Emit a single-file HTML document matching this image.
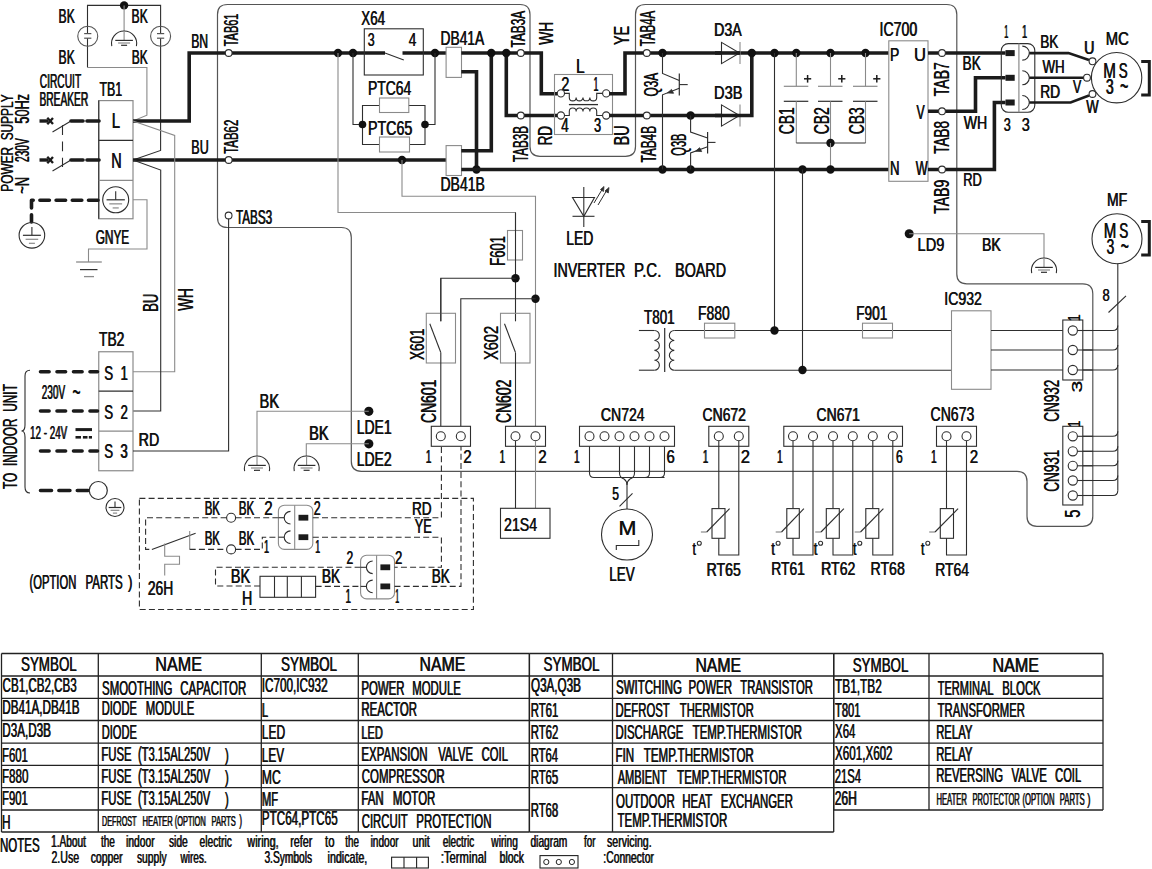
<!DOCTYPE html>
<html><head><meta charset="utf-8"><title>Wiring diagram</title>
<style>
html,body{margin:0;padding:0;background:#fff;}
svg{display:block;}
text{font-family:"Liberation Sans",sans-serif;white-space:pre;}
</style></head><body>
<svg width="1152" height="869" viewBox="0 0 1152 869">
<rect x="0" y="0" width="1152" height="869" fill="#fff"/>
<path d="M1.50 653.50 L529.40 653.50" fill="none" stroke="#222" stroke-width="1.30" stroke-linecap="butt" stroke-linejoin="miter"/>
<path d="M1.50 676.00 L529.40 676.00" fill="none" stroke="#222" stroke-width="1.30" stroke-linecap="butt" stroke-linejoin="miter"/>
<path d="M1.50 698.30 L529.40 698.30" fill="none" stroke="#222" stroke-width="1.30" stroke-linecap="butt" stroke-linejoin="miter"/>
<path d="M1.50 720.50 L529.40 720.50" fill="none" stroke="#222" stroke-width="1.30" stroke-linecap="butt" stroke-linejoin="miter"/>
<path d="M1.50 743.20 L529.40 743.20" fill="none" stroke="#222" stroke-width="1.30" stroke-linecap="butt" stroke-linejoin="miter"/>
<path d="M1.50 765.30 L529.40 765.30" fill="none" stroke="#222" stroke-width="1.30" stroke-linecap="butt" stroke-linejoin="miter"/>
<path d="M1.50 787.60 L529.40 787.60" fill="none" stroke="#222" stroke-width="1.30" stroke-linecap="butt" stroke-linejoin="miter"/>
<path d="M1.50 810.00 L529.40 810.00" fill="none" stroke="#222" stroke-width="1.30" stroke-linecap="butt" stroke-linejoin="miter"/>
<path d="M1.50 832.00 L529.40 832.00" fill="none" stroke="#222" stroke-width="1.30" stroke-linecap="butt" stroke-linejoin="miter"/>
<path d="M1.50 653.50 L1.50 832.00" fill="none" stroke="#222" stroke-width="1.30" stroke-linecap="butt" stroke-linejoin="miter"/>
<path d="M98.30 653.50 L98.30 832.00" fill="none" stroke="#222" stroke-width="1.30" stroke-linecap="butt" stroke-linejoin="miter"/>
<path d="M261.30 653.50 L261.30 832.00" fill="none" stroke="#222" stroke-width="1.30" stroke-linecap="butt" stroke-linejoin="miter"/>
<path d="M358.30 653.50 L358.30 832.00" fill="none" stroke="#222" stroke-width="1.30" stroke-linecap="butt" stroke-linejoin="miter"/>
<path d="M529.40 653.50 L529.40 832.00" fill="none" stroke="#222" stroke-width="1.30" stroke-linecap="butt" stroke-linejoin="miter"/>
<path d="M529.40 653.50 L833.70 653.50" fill="none" stroke="#222" stroke-width="1.30" stroke-linecap="butt" stroke-linejoin="miter"/>
<path d="M529.40 676.00 L833.70 676.00" fill="none" stroke="#222" stroke-width="1.30" stroke-linecap="butt" stroke-linejoin="miter"/>
<path d="M529.40 698.30 L833.70 698.30" fill="none" stroke="#222" stroke-width="1.30" stroke-linecap="butt" stroke-linejoin="miter"/>
<path d="M529.40 720.50 L833.70 720.50" fill="none" stroke="#222" stroke-width="1.30" stroke-linecap="butt" stroke-linejoin="miter"/>
<path d="M529.40 743.20 L833.70 743.20" fill="none" stroke="#222" stroke-width="1.30" stroke-linecap="butt" stroke-linejoin="miter"/>
<path d="M529.40 765.30 L833.70 765.30" fill="none" stroke="#222" stroke-width="1.30" stroke-linecap="butt" stroke-linejoin="miter"/>
<path d="M529.40 787.60 L833.70 787.60" fill="none" stroke="#222" stroke-width="1.30" stroke-linecap="butt" stroke-linejoin="miter"/>
<path d="M529.40 832.00 L833.70 832.00" fill="none" stroke="#222" stroke-width="1.30" stroke-linecap="butt" stroke-linejoin="miter"/>
<path d="M529.40 653.50 L529.40 832.00" fill="none" stroke="#222" stroke-width="1.30" stroke-linecap="butt" stroke-linejoin="miter"/>
<path d="M612.50 653.50 L612.50 832.00" fill="none" stroke="#222" stroke-width="1.30" stroke-linecap="butt" stroke-linejoin="miter"/>
<path d="M833.70 653.50 L833.70 832.00" fill="none" stroke="#222" stroke-width="1.30" stroke-linecap="butt" stroke-linejoin="miter"/>
<path d="M833.70 653.50 L1103.00 653.50" fill="none" stroke="#222" stroke-width="1.30" stroke-linecap="butt" stroke-linejoin="miter"/>
<path d="M833.70 676.00 L1103.00 676.00" fill="none" stroke="#222" stroke-width="1.30" stroke-linecap="butt" stroke-linejoin="miter"/>
<path d="M833.70 698.30 L1103.00 698.30" fill="none" stroke="#222" stroke-width="1.30" stroke-linecap="butt" stroke-linejoin="miter"/>
<path d="M833.70 720.50 L1103.00 720.50" fill="none" stroke="#222" stroke-width="1.30" stroke-linecap="butt" stroke-linejoin="miter"/>
<path d="M833.70 743.20 L1103.00 743.20" fill="none" stroke="#222" stroke-width="1.30" stroke-linecap="butt" stroke-linejoin="miter"/>
<path d="M833.70 765.30 L1103.00 765.30" fill="none" stroke="#222" stroke-width="1.30" stroke-linecap="butt" stroke-linejoin="miter"/>
<path d="M833.70 787.60 L1103.00 787.60" fill="none" stroke="#222" stroke-width="1.30" stroke-linecap="butt" stroke-linejoin="miter"/>
<path d="M833.70 810.00 L1103.00 810.00" fill="none" stroke="#222" stroke-width="1.30" stroke-linecap="butt" stroke-linejoin="miter"/>
<path d="M833.70 653.50 L833.70 810.00" fill="none" stroke="#222" stroke-width="1.30" stroke-linecap="butt" stroke-linejoin="miter"/>
<path d="M929.00 653.50 L929.00 810.00" fill="none" stroke="#222" stroke-width="1.30" stroke-linecap="butt" stroke-linejoin="miter"/>
<path d="M1103.00 653.50 L1103.00 810.00" fill="none" stroke="#222" stroke-width="1.30" stroke-linecap="butt" stroke-linejoin="miter"/>
<g transform="translate(20.70 671.30) scale(0.6578 1)" font-size="20.35" fill="#111"><text>SYMBOL</text><text x="0.836">SYMBOL</text></g>
<g transform="translate(155.01 671.30) scale(0.7953 1)" font-size="20.35" fill="#111"><text>NAME</text><text x="0.692">NAME</text></g>
<g transform="translate(280.69 671.30) scale(0.6614 1)" font-size="20.35" fill="#111"><text>SYMBOL</text><text x="0.832">SYMBOL</text></g>
<g transform="translate(419.33 671.30) scale(0.7793 1)" font-size="20.35" fill="#111"><text>NAME</text><text x="0.706">NAME</text></g>
<g transform="translate(543.19 671.30) scale(0.6614 1)" font-size="20.35" fill="#111"><text>SYMBOL</text><text x="0.832">SYMBOL</text></g>
<g transform="translate(695.13 671.80) scale(0.7776 1)" font-size="20.35" fill="#111"><text>NAME</text><text x="0.707">NAME</text></g>
<g transform="translate(852.40 671.80) scale(0.6578 1)" font-size="20.35" fill="#111"><text>SYMBOL</text><text x="0.836">SYMBOL</text></g>
<g transform="translate(992.21 671.80) scale(0.7918 1)" font-size="20.35" fill="#111"><text>NAME</text><text x="0.695">NAME</text></g>
<g transform="translate(2.32 691.60) scale(0.5781 1)" font-size="20.06" fill="#111"><text>CB1,CB2,CB3</text><text x="0.951">CB1,CB2,CB3</text></g>
<g transform="translate(1.96 713.80) scale(0.5755 1)" font-size="20.35" fill="#111"><text>DB41A,DB41B</text><text x="0.956">DB41A,DB41B</text></g>
<g transform="translate(1.97 736.50) scale(0.5742 1)" font-size="20.35" fill="#111"><text>D3A,D3B</text><text x="0.958">D3A,D3B</text></g>
<g transform="translate(1.69 761.60) scale(0.5598 1)" font-size="20.35" fill="#111"><text>F601</text><text x="0.982">F601</text></g>
<g transform="translate(1.67 783.40) scale(0.5709 1)" font-size="20.35" fill="#111"><text>F880</text><text x="0.963">F880</text></g>
<g transform="translate(1.69 805.20) scale(0.5598 1)" font-size="20.35" fill="#111"><text>F901</text><text x="0.982">F901</text></g>
<g transform="translate(1.66 829.00) scale(0.5663 1)" font-size="20.79" fill="#111"><text>H</text><text x="0.971">H</text></g>
<g transform="translate(101.79 694.50) scale(0.5782 1)" font-size="19.77" fill="#111"><text>SMOOTHING</text><text x="0.951">SMOOTHING</text></g>
<g transform="translate(180.03 694.50) scale(0.5815 1)" font-size="19.77" fill="#111"><text>CAPACITOR</text><text x="0.946">CAPACITOR</text></g>
<g transform="translate(101.41 715.20) scale(0.5624 1)" font-size="19.77" fill="#111"><text>DIODE</text><text x="0.978">DIODE</text></g>
<g transform="translate(145.49 715.20) scale(0.5741 1)" font-size="19.77" fill="#111"><text>MODULE</text><text x="0.958">MODULE</text></g>
<g transform="translate(101.41 738.60) scale(0.5386 1)" font-size="20.64" fill="#111"><text>DIODE</text><text x="1.021">DIODE</text></g>
<g transform="translate(101.09 761.20) scale(0.5797 1)" font-size="19.62" fill="#111"><text>FUSE</text><text x="0.949">FUSE</text></g>
<g transform="translate(137.63 761.20) scale(0.5719 1)" font-size="19.62" fill="#111"><text>(T3.15AL250V</text><text x="0.962">(T3.15AL250V</text></g>
<g transform="translate(224.64 760.50) scale(0.6025 1)" font-size="18.75" fill="#111"><text>)</text><text x="0.913">)</text></g>
<g transform="translate(101.09 783.30) scale(0.5797 1)" font-size="19.62" fill="#111"><text>FUSE</text><text x="0.949">FUSE</text></g>
<g transform="translate(137.63 783.30) scale(0.5719 1)" font-size="19.62" fill="#111"><text>(T3.15AL250V</text><text x="0.962">(T3.15AL250V</text></g>
<g transform="translate(224.64 782.60) scale(0.6025 1)" font-size="18.75" fill="#111"><text>)</text><text x="0.913">)</text></g>
<g transform="translate(101.09 805.40) scale(0.5630 1)" font-size="20.20" fill="#111"><text>FUSE</text><text x="0.977">FUSE</text></g>
<g transform="translate(137.63 805.40) scale(0.5554 1)" font-size="20.20" fill="#111"><text>(T3.15AL250V</text><text x="0.990">(T3.15AL250V</text></g>
<g transform="translate(224.64 804.70) scale(0.6025 1)" font-size="18.75" fill="#111"><text>)</text><text x="0.913">)</text></g>
<g transform="translate(101.72 826.00) scale(0.4656 1)" font-size="15.55" fill="#111"><text>DEFROST</text><text x="1.181">DEFROST</text></g>
<g transform="translate(142.19 826.00) scale(0.4889 1)" font-size="15.55" fill="#111"><text>HEATER</text><text x="1.125">HEATER</text></g>
<g transform="translate(174.45 826.00) scale(0.4794 1)" font-size="15.55" fill="#111"><text>(OPTION</text><text x="1.147">(OPTION</text></g>
<g transform="translate(211.30 826.00) scale(0.4812 1)" font-size="15.55" fill="#111"><text>PARTS</text><text x="1.143">PARTS</text></g>
<g transform="translate(238.96 826.20) scale(0.5212 1)" font-size="15.99" fill="#111"><text>)</text><text x="1.055">)</text></g>
<g transform="translate(261.44 691.60) scale(0.5994 1)" font-size="19.62" fill="#111"><text>IC700,IC932</text><text x="0.918">IC700,IC932</text></g>
<g transform="translate(261.61 716.60) scale(0.5669 1)" font-size="19.62" fill="#111"><text>L</text><text x="0.970">L</text></g>
<g transform="translate(261.54 739.40) scale(0.5927 1)" font-size="20.35" fill="#111"><text>LED</text><text x="0.928">LED</text></g>
<g transform="translate(261.56 761.90) scale(0.5797 1)" font-size="20.35" fill="#111"><text>LEV</text><text x="0.949">LEV</text></g>
<g transform="translate(261.52 783.70) scale(0.5989 1)" font-size="20.35" fill="#111"><text>MC</text><text x="0.918">MC</text></g>
<g transform="translate(261.60 805.60) scale(0.5524 1)" font-size="20.35" fill="#111"><text>MF</text><text x="0.996">MF</text></g>
<g transform="translate(261.57 825.30) scale(0.5947 1)" font-size="19.62" fill="#111"><text>PTC64,PTC65</text><text x="0.925">PTC64,PTC65</text></g>
<g transform="translate(361.09 694.90) scale(0.5821 1)" font-size="19.62" fill="#111"><text>POWER</text><text x="0.945">POWER</text></g>
<g transform="translate(411.89 694.90) scale(0.5808 1)" font-size="19.62" fill="#111"><text>MODULE</text><text x="0.947">MODULE</text></g>
<g transform="translate(361.08 716.40) scale(0.5831 1)" font-size="19.62" fill="#111"><text>REACTOR</text><text x="0.943">REACTOR</text></g>
<g transform="translate(361.12 738.50) scale(0.5786 1)" font-size="19.04" fill="#111"><text>LED</text><text x="0.951">LED</text></g>
<g transform="translate(361.08 761.30) scale(0.5869 1)" font-size="19.62" fill="#111"><text>EXPANSION</text><text x="0.937">EXPANSION</text></g>
<g transform="translate(437.90 761.30) scale(0.5785 1)" font-size="19.62" fill="#111"><text>VALVE</text><text x="0.951">VALVE</text></g>
<g transform="translate(481.34 761.30) scale(0.5752 1)" font-size="19.62" fill="#111"><text>COIL</text><text x="0.956">COIL</text></g>
<g transform="translate(361.43 783.40) scale(0.5772 1)" font-size="19.91" fill="#111"><text>COMPRESSOR</text><text x="0.953">COMPRESSOR</text></g>
<g transform="translate(361.08 805.30) scale(0.5851 1)" font-size="19.62" fill="#111"><text>FAN</text><text x="0.940">FAN</text></g>
<g transform="translate(392.58 805.30) scale(0.5858 1)" font-size="19.62" fill="#111"><text>MOTOR</text><text x="0.939">MOTOR</text></g>
<g transform="translate(361.43 828.20) scale(0.5592 1)" font-size="20.35" fill="#111"><text>CIRCUIT</text><text x="0.983">CIRCUIT</text></g>
<g transform="translate(415.98 828.20) scale(0.5640 1)" font-size="20.35" fill="#111"><text>PROTECTION</text><text x="0.975">PROTECTION</text></g>
<g transform="translate(530.78 691.60) scale(0.5936 1)" font-size="19.62" fill="#111"><text>Q3A,Q3B</text><text x="0.926">Q3A,Q3B</text></g>
<g transform="translate(530.39 716.60) scale(0.5587 1)" font-size="20.35" fill="#111"><text>RT61</text><text x="0.984">RT61</text></g>
<g transform="translate(530.39 739.40) scale(0.5587 1)" font-size="20.35" fill="#111"><text>RT62</text><text x="0.984">RT62</text></g>
<g transform="translate(530.40 761.90) scale(0.5539 1)" font-size="20.35" fill="#111"><text>RT64</text><text x="0.993">RT64</text></g>
<g transform="translate(530.39 783.80) scale(0.5575 1)" font-size="20.35" fill="#111"><text>RT65</text><text x="0.987">RT65</text></g>
<g transform="translate(530.39 816.60) scale(0.5575 1)" font-size="20.35" fill="#111"><text>RT68</text><text x="0.987">RT68</text></g>
<g transform="translate(615.68 693.70) scale(0.5750 1)" font-size="20.06" fill="#111"><text>SWITCHING</text><text x="0.956">SWITCHING</text></g>
<g transform="translate(688.18 693.70) scale(0.5763 1)" font-size="20.06" fill="#111"><text>POWER</text><text x="0.954">POWER</text></g>
<g transform="translate(739.97 693.70) scale(0.5643 1)" font-size="20.06" fill="#111"><text>TRANSISTOR</text><text x="0.975">TRANSISTOR</text></g>
<g transform="translate(615.29 716.50) scale(0.5384 1)" font-size="21.08" fill="#111"><text>DEFROST</text><text x="1.022">DEFROST</text></g>
<g transform="translate(679.58 716.50) scale(0.5322 1)" font-size="21.08" fill="#111"><text>THERMISTOR</text><text x="1.033">THERMISTOR</text></g>
<g transform="translate(615.29 738.60) scale(0.5458 1)" font-size="20.93" fill="#111"><text>DISCHARGE</text><text x="1.008">DISCHARGE</text></g>
<g transform="translate(692.37 738.60) scale(0.5487 1)" font-size="20.93" fill="#111"><text>TEMP.THERMISTOR</text><text x="1.002">TEMP.THERMISTOR</text></g>
<g transform="translate(615.27 761.80) scale(0.5495 1)" font-size="21.08" fill="#111"><text>FIN</text><text x="1.001">FIN</text></g>
<g transform="translate(643.57 761.80) scale(0.5480 1)" font-size="21.08" fill="#111"><text>TEMP.THERMISTOR</text><text x="1.004">TEMP.THERMISTOR</text></g>
<g transform="translate(617.40 783.90) scale(0.5285 1)" font-size="20.93" fill="#111"><text>AMBIENT</text><text x="1.041">AMBIENT</text></g>
<g transform="translate(676.87 783.90) scale(0.5492 1)" font-size="20.93" fill="#111"><text>TEMP.THERMISTOR</text><text x="1.001">TEMP.THERMISTOR</text></g>
<g transform="translate(615.68 808.00) scale(0.5500 1)" font-size="20.93" fill="#111"><text>OUTDOOR</text><text x="1.000">OUTDOOR</text></g>
<g transform="translate(681.98 808.00) scale(0.5516 1)" font-size="20.93" fill="#111"><text>HEAT</text><text x="0.997">HEAT</text></g>
<g transform="translate(720.59 808.00) scale(0.5439 1)" font-size="20.93" fill="#111"><text>EXCHANGER</text><text x="1.011">EXCHANGER</text></g>
<g transform="translate(617.17 826.70) scale(0.5556 1)" font-size="20.79" fill="#111"><text>TEMP.THERMISTOR</text><text x="0.990">TEMP.THERMISTOR</text></g>
<g transform="translate(834.76 692.50) scale(0.6048 1)" font-size="19.62" fill="#111"><text>TB1,TB2</text><text x="0.909">TB1,TB2</text></g>
<g transform="translate(834.78 717.00) scale(0.5491 1)" font-size="20.35" fill="#111"><text>T801</text><text x="1.002">T801</text></g>
<g transform="translate(834.77 738.40) scale(0.5831 1)" font-size="19.62" fill="#111"><text>X64</text><text x="0.943">X64</text></g>
<g transform="translate(834.77 759.70) scale(0.5920 1)" font-size="19.62" fill="#111"><text>X601,X602</text><text x="0.929">X601,X602</text></g>
<g transform="translate(834.44 783.40) scale(0.5534 1)" font-size="20.35" fill="#111"><text>21S4</text><text x="0.994">21S4</text></g>
<g transform="translate(834.39 805.20) scale(0.5952 1)" font-size="20.35" fill="#111"><text>26H</text><text x="0.924">26H</text></g>
<g transform="translate(937.38 694.80) scale(0.5396 1)" font-size="20.49" fill="#111"><text>TERMINAL</text><text x="1.019">TERMINAL</text></g>
<g transform="translate(1001.99 694.80) scale(0.5529 1)" font-size="20.49" fill="#111"><text>BLOCK</text><text x="0.995">BLOCK</text></g>
<g transform="translate(937.37 716.70) scale(0.5405 1)" font-size="20.93" fill="#111"><text>TRANSFORMER</text><text x="1.018">TRANSFORMER</text></g>
<g transform="translate(935.89 738.60) scale(0.5524 1)" font-size="20.49" fill="#111"><text>RELAY</text><text x="0.996">RELAY</text></g>
<g transform="translate(935.89 760.50) scale(0.5524 1)" font-size="20.49" fill="#111"><text>RELAY</text><text x="0.996">RELAY</text></g>
<g transform="translate(935.89 782.40) scale(0.5547 1)" font-size="20.49" fill="#111"><text>REVERSING</text><text x="0.992">REVERSING</text></g>
<g transform="translate(1011.20 782.40) scale(0.5619 1)" font-size="20.49" fill="#111"><text>VALVE</text><text x="0.979">VALVE</text></g>
<g transform="translate(1054.84 782.40) scale(0.5442 1)" font-size="20.49" fill="#111"><text>COIL</text><text x="1.011">COIL</text></g>
<g transform="translate(936.19 804.60) scale(0.4832 1)" font-size="15.84" fill="#111"><text>HEATER</text><text x="1.138">HEATER</text></g>
<g transform="translate(972.19 804.60) scale(0.4775 1)" font-size="15.84" fill="#111"><text>PROTECTOR</text><text x="1.152">PROTECTOR</text></g>
<g transform="translate(1022.14 804.60) scale(0.4863 1)" font-size="15.84" fill="#111"><text>(OPTION</text><text x="1.131">(OPTION</text></g>
<g transform="translate(1059.48 804.60) scale(0.4865 1)" font-size="15.84" fill="#111"><text>PARTS</text><text x="1.130">PARTS</text></g>
<g transform="translate(1086.95 804.80) scale(0.6139 1)" font-size="15.99" fill="#111"><text>)</text><text x="0.896">)</text></g>
<g transform="translate(-0.32 852.00) scale(0.5863 1)" font-size="19.62" fill="#111"><text>NOTES</text><text x="0.938">NOTES</text></g>
<g transform="translate(50.84 847.30) scale(0.5941 1)" font-size="17.01" fill="#111"><text>1.About</text><text x="0.926">1.About</text></g>
<g transform="translate(100.65 847.30) scale(0.5924 1)" font-size="17.01" fill="#111"><text>the</text><text x="0.928">the</text></g>
<g transform="translate(125.83 847.30) scale(0.6022 1)" font-size="17.01" fill="#111"><text>indoor</text><text x="0.913">indoor</text></g>
<g transform="translate(168.64 847.30) scale(0.6063 1)" font-size="17.01" fill="#111"><text>side</text><text x="0.907">side</text></g>
<g transform="translate(199.29 847.30) scale(0.6013 1)" font-size="17.01" fill="#111"><text>electric</text><text x="0.915">electric</text></g>
<g transform="translate(247.05 847.30) scale(0.6383 1)" font-size="17.01" fill="#111"><text>wiring,</text><text x="0.862">wiring,</text></g>
<g transform="translate(289.90 847.30) scale(0.6341 1)" font-size="17.01" fill="#111"><text>refer</text><text x="0.867">refer</text></g>
<g transform="translate(324.83 847.30) scale(0.6672 1)" font-size="17.01" fill="#111"><text>to</text><text x="0.824">to</text></g>
<g transform="translate(345.05 847.30) scale(0.5748 1)" font-size="17.01" fill="#111"><text>the</text><text x="0.957">the</text></g>
<g transform="translate(370.34 847.30) scale(0.5935 1)" font-size="17.01" fill="#111"><text>indoor</text><text x="0.927">indoor</text></g>
<g transform="translate(412.16 847.30) scale(0.6317 1)" font-size="17.01" fill="#111"><text>unit</text><text x="0.871">unit</text></g>
<g transform="translate(442.60 847.30) scale(0.5842 1)" font-size="17.01" fill="#111"><text>electric</text><text x="0.941">electric</text></g>
<g transform="translate(491.05 847.30) scale(0.5972 1)" font-size="17.01" fill="#111"><text>wiring</text><text x="0.921">wiring</text></g>
<g transform="translate(530.19 847.30) scale(0.6006 1)" font-size="17.01" fill="#111"><text>diagram</text><text x="0.916">diagram</text></g>
<g transform="translate(583.70 847.30) scale(0.5778 1)" font-size="17.01" fill="#111"><text>for</text><text x="0.952">for</text></g>
<g transform="translate(606.74 847.30) scale(0.6216 1)" font-size="17.01" fill="#111"><text>servicing.</text><text x="0.885">servicing.</text></g>
<g transform="translate(51.17 863.00) scale(0.6242 1)" font-size="17.01" fill="#111"><text>2.Use</text><text x="0.881">2.Use</text></g>
<g transform="translate(90.38 863.00) scale(0.6154 1)" font-size="17.01" fill="#111"><text>copper</text><text x="0.894">copper</text></g>
<g transform="translate(136.64 863.00) scale(0.6065 1)" font-size="17.01" fill="#111"><text>supply</text><text x="0.907">supply</text></g>
<g transform="translate(180.15 863.00) scale(0.5915 1)" font-size="17.01" fill="#111"><text>wires.</text><text x="0.930">wires.</text></g>
<g transform="translate(264.14 863.00) scale(0.6014 1)" font-size="17.01" fill="#111"><text>3.Symbols</text><text x="0.914">3.Symbols</text></g>
<g transform="translate(327.31 863.00) scale(0.6267 1)" font-size="17.01" fill="#111"><text>indicate,</text><text x="0.878">indicate,</text></g>
<g transform="translate(440.59 863.00) scale(0.6603 1)" font-size="17.01" fill="#111"><text>:Terminal</text><text x="0.833">:Terminal</text></g>
<g transform="translate(499.37 863.00) scale(0.6151 1)" font-size="17.01" fill="#111"><text>block</text><text x="0.894">block</text></g>
<g transform="translate(603.07 863.00) scale(0.6071 1)" font-size="17.01" fill="#111"><text>:Connector</text><text x="0.906">:Connector</text></g>
<rect x="391.60" y="857.20" width="36.80" height="10.80" rx="0.00" fill="none" stroke="#222" stroke-width="1.10"/>
<path d="M404.00 857.20 L404.00 868.00" fill="none" stroke="#222" stroke-width="1.10" stroke-linecap="butt" stroke-linejoin="miter"/>
<path d="M416.60 857.20 L416.60 868.00" fill="none" stroke="#222" stroke-width="1.10" stroke-linecap="butt" stroke-linejoin="miter"/>
<rect x="540.00" y="855.60" width="38.00" height="12.40" rx="0.00" fill="none" stroke="#222" stroke-width="1.10"/>
<circle cx="546.30" cy="862.00" r="2.60" fill="#fff" stroke="#222" stroke-width="1.00"/>
<circle cx="558.80" cy="862.00" r="2.60" fill="#fff" stroke="#222" stroke-width="1.00"/>
<circle cx="571.90" cy="862.00" r="2.60" fill="#fff" stroke="#222" stroke-width="1.00"/>
<path d="M 217.5 217.5 L 217.5 14.5 Q 217.5 4.5 227.5 4.5 L 520 4.5 Q 530 4.5 530 14.5 L 530 146.5 Q 530 156.3 540 156.3 L 625.5 156.3 Q 635.5 156.3 635.5 146.5 L 635.5 14.5 Q 635.5 4.5 645.5 4.5 L 946.8 4.5 Q 956.8 4.5 956.8 14.5 L 956.8 274 Q 956.8 283.8 966.8 283.8 L 1082.8 283.8 Q 1092.8 283.8 1092.8 293.8 L 1092.8 516.3 Q 1092.8 526.3 1082.8 526.3 L 1037 526.3 Q 1027 526.3 1027 516.3 L 1027 481.3 Q 1027 471.3 1017 471.3 L 361.3 471.3 Q 351.3 471.3 351.3 461.3 L 351.3 237.5 Q 351.3 227.5 341.3 227.5 L 227.5 227.5 Q 217.5 227.5 217.5 217.5 Z" fill="none" stroke="#555" stroke-width="1.20"/>
<path d="M87.50 33.60 L87.50 5.40 L160.60 5.40 L160.60 33.60" fill="none" stroke="#2e2e2e" stroke-width="1.10" stroke-linecap="butt" stroke-linejoin="miter"/>
<path d="M87.50 38.20 L87.50 67.50" fill="none" stroke="#2e2e2e" stroke-width="1.10" stroke-linecap="butt" stroke-linejoin="miter"/>
<path d="M160.60 38.20 L160.60 150.40 L133.00 160.00" fill="none" stroke="#2e2e2e" stroke-width="1.10" stroke-linecap="butt" stroke-linejoin="miter"/>
<path d="M87.50 67.50 L146.90 67.50 L146.90 115.20 L133.00 121.00" fill="none" stroke="#8a8a8a" stroke-width="1.10" stroke-linecap="butt" stroke-linejoin="miter"/>
<circle cx="124.10" cy="5.40" r="4.20" fill="#111"/>
<path d="M124.10 5.40 L124.10 31.00" fill="none" stroke="#8a8a8a" stroke-width="1.10" stroke-linecap="butt" stroke-linejoin="miter"/>
<circle cx="87.75" cy="36.25" r="10.00" fill="none" stroke="#555" stroke-width="1.10"/>
<path d="M84.15 33.60 L91.35 33.60" fill="none" stroke="#555" stroke-width="1.20" stroke-linecap="butt" stroke-linejoin="miter"/>
<path d="M84.15 38.20 L91.35 38.20" fill="none" stroke="#555" stroke-width="1.20" stroke-linecap="butt" stroke-linejoin="miter"/>
<circle cx="160.60" cy="36.25" r="10.00" fill="none" stroke="#555" stroke-width="1.10"/>
<path d="M157.00 33.60 L164.20 33.60" fill="none" stroke="#555" stroke-width="1.20" stroke-linecap="butt" stroke-linejoin="miter"/>
<path d="M157.00 38.20 L164.20 38.20" fill="none" stroke="#555" stroke-width="1.20" stroke-linecap="butt" stroke-linejoin="miter"/>
<path d="M 111.78 46.22 A 12.60 12.60 0 1 1 136.42 46.22" fill="none" stroke="#2e2e2e" stroke-width="1.10"/>
<path d="M124.10 31.00 L124.10 40.40" fill="none" stroke="#8a8a8a" stroke-width="1.10" stroke-linecap="butt" stroke-linejoin="miter"/>
<path d="M115.30 40.40 L132.90 40.40" fill="none" stroke="#2e2e2e" stroke-width="1.20" stroke-linecap="butt" stroke-linejoin="miter"/>
<path d="M118.10 43.00 L130.10 43.00" fill="none" stroke="#8a8a8a" stroke-width="1.20" stroke-linecap="butt" stroke-linejoin="miter"/>
<path d="M121.10 45.30 L127.10 45.30" fill="none" stroke="#2e2e2e" stroke-width="1.20" stroke-linecap="butt" stroke-linejoin="miter"/>
<g transform="translate(58.33 22.90) scale(0.5980 1)" font-size="20.35" fill="#111"><text>BK</text><text x="0.920">BK</text></g>
<g transform="translate(131.33 22.90) scale(0.5980 1)" font-size="20.35" fill="#111"><text>BK</text><text x="0.920">BK</text></g>
<g transform="translate(58.33 64.40) scale(0.5980 1)" font-size="20.35" fill="#111"><text>BK</text><text x="0.920">BK</text></g>
<g transform="translate(131.54 64.40) scale(0.5901 1)" font-size="20.35" fill="#111"><text>BK</text><text x="0.932">BK</text></g>
<g transform="translate(12.60 191.95) rotate(-90) scale(0.7223 1)" font-size="16.42" fill="#111"><text>POWER  SUPPLY</text><text x="0.761">POWER  SUPPLY</text></g>
<g transform="translate(28.90 194.12) rotate(-90) scale(0.6206 1)" font-size="20.79" fill="#111"><text>~N</text><text x="0.886">~N</text></g>
<g transform="translate(28.90 162.31) rotate(-90) scale(0.4895 1)" font-size="20.79" fill="#111"><text>230V</text><text x="1.124">230V</text></g>
<g transform="translate(28.90 123.91) rotate(-90) scale(0.6105 1)" font-size="20.79" fill="#111"><text>50Hz</text><text x="0.901">50Hz</text></g>
<g transform="translate(39.49 87.75) scale(0.5019 1)" font-size="20.35" fill="#111"><text>CIRCUIT</text><text x="1.096">CIRCUIT</text></g>
<g transform="translate(39.18 105.60) scale(0.5020 1)" font-size="20.35" fill="#111"><text>BREAKER</text><text x="1.096">BREAKER</text></g>
<g transform="translate(99.15 95.60) scale(0.6008 1)" font-size="20.64" fill="#111"><text>TB1</text><text x="0.915">TB1</text></g>
<rect x="98.75" y="100.60" width="34.25" height="118.15" rx="0.00" fill="none" stroke="#8a8a8a" stroke-width="1.20"/>
<path d="M98.75 100.60 L98.75 218.75" fill="none" stroke="#2e2e2e" stroke-width="1.10" stroke-linecap="butt" stroke-linejoin="miter"/>
<path d="M98.75 140.40 L133.00 140.40" fill="none" stroke="#2e2e2e" stroke-width="1.20" stroke-linecap="butt" stroke-linejoin="miter"/>
<path d="M98.75 180.40 L133.00 180.40" fill="none" stroke="#8a8a8a" stroke-width="1.20" stroke-linecap="butt" stroke-linejoin="miter"/>
<g transform="translate(111.40 127.90) scale(0.6590 1)" font-size="22.67" fill="#111"><text>L</text><text x="0.835">L</text></g>
<g transform="translate(111.05 168.00) scale(0.6281 1)" font-size="22.97" fill="#111"><text>N</text><text x="0.876">N</text></g>
<circle cx="115.70" cy="199.80" r="13.00" fill="none" stroke="#2e2e2e" stroke-width="1.10"/>
<path d="M115.70 191.27 L115.70 199.80" fill="none" stroke="#2e2e2e" stroke-width="1.10" stroke-linecap="butt" stroke-linejoin="miter"/>
<path d="M106.56 199.80 L124.84 199.80" fill="none" stroke="#2e2e2e" stroke-width="1.20" stroke-linecap="butt" stroke-linejoin="miter"/>
<path d="M109.30 203.86 L122.10 203.86" fill="none" stroke="#8a8a8a" stroke-width="1.20" stroke-linecap="butt" stroke-linejoin="miter"/>
<path d="M112.65 207.93 L118.75 207.93" fill="none" stroke="#8a8a8a" stroke-width="1.20" stroke-linecap="butt" stroke-linejoin="miter"/>
<path d="M39.50 121.00 L48.50 121.00" fill="none" stroke="#1b1b1b" stroke-width="3.40" stroke-linecap="butt" stroke-linejoin="miter"/>
<path d="M47.30 117.80 L53.00 124.00" fill="none" stroke="#1b1b1b" stroke-width="2.30" stroke-linecap="butt" stroke-linejoin="miter"/>
<path d="M47.30 124.20 L53.00 118.00" fill="none" stroke="#1b1b1b" stroke-width="2.30" stroke-linecap="butt" stroke-linejoin="miter"/>
<path d="M52.50 132.00 L71.00 121.00" fill="none" stroke="#2e2e2e" stroke-width="1.10" stroke-linecap="butt" stroke-linejoin="miter"/>
<path d="M71.00 121.00 L83.00 121.00" fill="none" stroke="#1b1b1b" stroke-width="3.60" stroke-linecap="round" stroke-linejoin="miter"/>
<path d="M87.00 121.00 L99.00 121.00" fill="none" stroke="#1b1b1b" stroke-width="3.60" stroke-linecap="round" stroke-linejoin="miter"/>
<path d="M39.50 160.00 L48.50 160.00" fill="none" stroke="#1b1b1b" stroke-width="3.40" stroke-linecap="butt" stroke-linejoin="miter"/>
<path d="M47.30 156.80 L53.00 163.00" fill="none" stroke="#1b1b1b" stroke-width="2.30" stroke-linecap="butt" stroke-linejoin="miter"/>
<path d="M47.30 163.20 L53.00 157.00" fill="none" stroke="#1b1b1b" stroke-width="2.30" stroke-linecap="butt" stroke-linejoin="miter"/>
<path d="M52.50 171.00 L71.00 160.00" fill="none" stroke="#2e2e2e" stroke-width="1.10" stroke-linecap="butt" stroke-linejoin="miter"/>
<path d="M71.00 160.00 L83.00 160.00" fill="none" stroke="#1b1b1b" stroke-width="3.60" stroke-linecap="round" stroke-linejoin="miter"/>
<path d="M87.00 160.00 L99.00 160.00" fill="none" stroke="#1b1b1b" stroke-width="3.60" stroke-linecap="round" stroke-linejoin="miter"/>
<path d="M62.50 125.30 L62.50 167.00" fill="none" stroke="#2e2e2e" stroke-width="1.10" stroke-linecap="butt" stroke-linejoin="miter" stroke-dasharray="9.8 6.4"/>
<path d="M98.00 200.20 L31.50 200.20 L31.50 222.00" fill="none" stroke="#1b1b1b" stroke-width="3.60" stroke-linecap="round" stroke-linejoin="round" stroke-dasharray="9.5 6.7"/>
<circle cx="31.90" cy="235.30" r="12.80" fill="none" stroke="#2e2e2e" stroke-width="1.10"/>
<path d="M31.90 226.90 L31.90 235.30" fill="none" stroke="#2e2e2e" stroke-width="1.10" stroke-linecap="butt" stroke-linejoin="miter"/>
<path d="M22.90 235.30 L40.90 235.30" fill="none" stroke="#2e2e2e" stroke-width="1.20" stroke-linecap="butt" stroke-linejoin="miter"/>
<path d="M25.60 239.30 L38.20 239.30" fill="none" stroke="#8a8a8a" stroke-width="1.20" stroke-linecap="butt" stroke-linejoin="miter"/>
<path d="M28.90 243.30 L34.90 243.30" fill="none" stroke="#8a8a8a" stroke-width="1.20" stroke-linecap="butt" stroke-linejoin="miter"/>
<path d="M133.00 199.80 L147.00 199.80 L147.00 249.00 L88.50 249.00 L88.50 262.00" fill="none" stroke="#8a8a8a" stroke-width="1.10" stroke-linecap="butt" stroke-linejoin="miter"/>
<path d="M76.10 262.00 L101.80 262.00" fill="none" stroke="#8a8a8a" stroke-width="1.30" stroke-linecap="butt" stroke-linejoin="miter"/>
<path d="M80.00 269.60 L97.50 269.60" fill="none" stroke="#2e2e2e" stroke-width="1.20" stroke-linecap="butt" stroke-linejoin="miter"/>
<path d="M84.00 276.60 L94.00 276.60" fill="none" stroke="#8a8a8a" stroke-width="1.30" stroke-linecap="butt" stroke-linejoin="miter"/>
<g transform="translate(95.41 244.00) scale(0.6035 1)" font-size="19.62" fill="#111"><text>GNYE</text><text x="0.911">GNYE</text></g>
<path d="M133.00 121.00 L189.20 121.00 L189.20 53.00 L228.70 53.00" fill="none" stroke="#1b1b1b" stroke-width="3.60" stroke-linecap="butt" stroke-linejoin="miter"/>
<path d="M133.00 160.00 L228.70 160.00" fill="none" stroke="#1b1b1b" stroke-width="3.60" stroke-linecap="butt" stroke-linejoin="miter"/>
<g transform="translate(190.92 47.50) scale(0.5928 1)" font-size="20.64" fill="#111"><text>BN</text><text x="0.928">BN</text></g>
<g transform="translate(191.00 153.80) scale(0.6086 1)" font-size="20.64" fill="#111"><text>BU</text><text x="0.904">BU</text></g>
<path d="M133.00 121.00 L174.70 135.40 L174.70 371.75 L133.00 371.75" fill="none" stroke="#8a8a8a" stroke-width="1.10" stroke-linecap="butt" stroke-linejoin="miter"/>
<path d="M133.00 160.00 L160.70 170.10 L160.70 411.00 L133.00 411.00" fill="none" stroke="#2e2e2e" stroke-width="1.10" stroke-linecap="butt" stroke-linejoin="miter"/>
<g transform="translate(158.00 312.04) rotate(-90) scale(0.5756 1)" font-size="22.53" fill="#111"><text>BU</text><text x="0.956">BU</text></g>
<g transform="translate(193.00 311.00) rotate(-90) scale(0.6188 1)" font-size="21.80" fill="#111"><text>WH</text><text x="0.889">WH</text></g>
<g transform="translate(98.72 346.00) scale(0.6788 1)" font-size="20.35" fill="#111"><text>TB2</text><text x="0.810">TB2</text></g>
<rect x="98.75" y="351.75" width="34.25" height="119.00" rx="0.00" fill="none" stroke="#8a8a8a" stroke-width="1.20"/>
<path d="M98.75 391.20 L133.00 391.20" fill="none" stroke="#2e2e2e" stroke-width="1.20" stroke-linecap="butt" stroke-linejoin="miter"/>
<path d="M98.75 431.20 L133.00 431.20" fill="none" stroke="#8a8a8a" stroke-width="1.20" stroke-linecap="butt" stroke-linejoin="miter"/>
<g transform="translate(103.90 380.00) scale(0.6528 1)" font-size="20.35" fill="#111"><text>S  1</text><text x="0.843">S  1</text></g>
<g transform="translate(103.90 418.80) scale(0.6528 1)" font-size="20.35" fill="#111"><text>S  2</text><text x="0.843">S  2</text></g>
<g transform="translate(103.90 458.00) scale(0.6509 1)" font-size="20.35" fill="#111"><text>S  3</text><text x="0.845">S  3</text></g>
<path d="M40.50 371.75 L97.50 371.75" fill="none" stroke="#1b1b1b" stroke-width="3.60" stroke-linecap="round" stroke-linejoin="miter" stroke-dasharray="8.6 7.9"/>
<path d="M40.50 411.00 L97.50 411.00" fill="none" stroke="#1b1b1b" stroke-width="3.60" stroke-linecap="round" stroke-linejoin="miter" stroke-dasharray="8.6 7.9"/>
<path d="M40.50 451.00 L97.50 451.00" fill="none" stroke="#1b1b1b" stroke-width="3.60" stroke-linecap="round" stroke-linejoin="miter" stroke-dasharray="8.6 7.9"/>
<g transform="translate(41.50 398.80) scale(0.5173 1)" font-size="19.33" fill="#111"><text>230V</text><text x="1.063">230V</text></g>
<g transform="translate(72.15 401.80) scale(0.4620 1)" font-size="29.65" fill="#111"><text>~</text><text x="1.190">~</text></g>
<g transform="translate(29.76 438.80) scale(0.5288 1)" font-size="18.60" fill="#111"><text>12 - 24V</text><text x="1.040">12 - 24V</text></g>
<path d="M75.50 429.60 L92.00 429.60" fill="none" stroke="#1b1b1b" stroke-width="3.00" stroke-linecap="butt" stroke-linejoin="miter"/>
<path d="M75.50 437.30 L81.00 437.30" fill="none" stroke="#1b1b1b" stroke-width="2.60" stroke-linecap="butt" stroke-linejoin="miter"/>
<path d="M82.90 437.30 L87.50 437.30" fill="none" stroke="#1b1b1b" stroke-width="2.60" stroke-linecap="butt" stroke-linejoin="miter"/>
<path d="M88.80 437.30 L92.00 437.30" fill="none" stroke="#1b1b1b" stroke-width="2.60" stroke-linecap="butt" stroke-linejoin="miter"/>
<path d="M40.50 490.50 L89.50 490.50" fill="none" stroke="#1b1b1b" stroke-width="3.60" stroke-linecap="round" stroke-linejoin="miter" stroke-dasharray="11 7.4"/>
<circle cx="98.30" cy="490.50" r="9.00" fill="#fff" stroke="#2e2e2e" stroke-width="1.20"/>
<circle cx="115.00" cy="507.50" r="9.00" fill="none" stroke="#2e2e2e" stroke-width="1.10"/>
<path d="M115.00 501.59 L115.00 507.50" fill="none" stroke="#2e2e2e" stroke-width="1.10" stroke-linecap="butt" stroke-linejoin="miter"/>
<path d="M108.67 507.50 L121.33 507.50" fill="none" stroke="#2e2e2e" stroke-width="1.20" stroke-linecap="butt" stroke-linejoin="miter"/>
<path d="M110.57 510.31 L119.43 510.31" fill="none" stroke="#8a8a8a" stroke-width="1.20" stroke-linecap="butt" stroke-linejoin="miter"/>
<path d="M112.89 513.12 L117.11 513.12" fill="none" stroke="#8a8a8a" stroke-width="1.20" stroke-linecap="butt" stroke-linejoin="miter"/>
<path d="M 30 370.3 Q 25 370.3 25 376 L 25 425 Q 25 431 21.5 431 Q 25 431 25 437 L 25 487 Q 25 493 30 493" fill="none" stroke="#2e2e2e" stroke-width="1.10"/>
<g transform="translate(17.00 489.24) rotate(-90) scale(0.5648 1)" font-size="21.08" fill="#111"><text>TO  INDOOR  UNIT</text><text x="0.974">TO  INDOOR  UNIT</text></g>
<path d="M133.00 451.00 L228.60 451.00 L228.60 219.00" fill="none" stroke="#2e2e2e" stroke-width="1.10" stroke-linecap="butt" stroke-linejoin="miter"/>
<g transform="translate(138.36 445.50) scale(0.7546 1)" font-size="18.90" fill="#111"><text>RD</text><text x="0.729">RD</text></g>
<g transform="translate(237.50 46.52) rotate(-90) scale(0.5201 1)" font-size="21.08" fill="#111"><text>TAB61</text><text x="1.058">TAB61</text></g>
<g transform="translate(237.50 154.03) rotate(-90) scale(0.5412 1)" font-size="21.08" fill="#111"><text>TAB62</text><text x="1.016">TAB62</text></g>
<g transform="translate(235.77 223.80) scale(0.5953 1)" font-size="19.62" fill="#111"><text>TABS3</text><text x="0.924">TABS3</text></g>
<path d="M228.70 53.00 L385.00 53.00" fill="none" stroke="#1b1b1b" stroke-width="3.60" stroke-linecap="butt" stroke-linejoin="miter"/>
<path d="M385.00 53.00 L403.80 60.00" fill="none" stroke="#2e2e2e" stroke-width="1.10" stroke-linecap="butt" stroke-linejoin="miter"/>
<path d="M402.50 53.00 L446.80 53.00" fill="none" stroke="#1b1b1b" stroke-width="3.60" stroke-linecap="butt" stroke-linejoin="miter"/>
<circle cx="338.00" cy="53.00" r="4.20" fill="#111"/>
<circle cx="353.00" cy="53.00" r="4.20" fill="#111"/>
<circle cx="435.00" cy="53.00" r="4.20" fill="#111"/>
<rect x="364.30" y="28.80" width="59.00" height="46.20" rx="0.00" fill="none" stroke="#2e2e2e" stroke-width="1.10"/>
<g transform="translate(361.03 24.50) scale(0.6800 1)" font-size="19.62" fill="#111"><text>X64</text><text x="0.809">X64</text></g>
<g transform="translate(367.57 46.30) scale(0.6560 1)" font-size="18.90" fill="#111"><text>3</text><text x="0.838">3</text></g>
<g transform="translate(408.53 46.30) scale(0.7212 1)" font-size="18.90" fill="#111"><text>4</text><text x="0.763">4</text></g>
<path d="M353.00 53.00 L353.00 124.50 L362.50 124.50" fill="none" stroke="#2e2e2e" stroke-width="1.10" stroke-linecap="butt" stroke-linejoin="miter"/>
<path d="M425.00 124.50 L435.00 124.50 L435.00 53.00" fill="none" stroke="#2e2e2e" stroke-width="1.10" stroke-linecap="butt" stroke-linejoin="miter"/>
<path d="M362.50 124.50 L362.50 105.50 L379.50 105.50" fill="none" stroke="#2e2e2e" stroke-width="1.10" stroke-linecap="butt" stroke-linejoin="miter"/>
<path d="M408.80 105.50 L425.00 105.50 L425.00 124.50" fill="none" stroke="#2e2e2e" stroke-width="1.10" stroke-linecap="butt" stroke-linejoin="miter"/>
<rect x="379.50" y="98.00" width="29.30" height="14.50" rx="0.00" fill="none" stroke="#8a8a8a" stroke-width="1.10"/>
<path d="M362.50 124.50 L362.50 144.50 L379.50 144.50" fill="none" stroke="#2e2e2e" stroke-width="1.10" stroke-linecap="butt" stroke-linejoin="miter"/>
<path d="M409.50 144.50 L425.00 144.50 L425.00 124.50" fill="none" stroke="#2e2e2e" stroke-width="1.10" stroke-linecap="butt" stroke-linejoin="miter"/>
<rect x="379.50" y="137.00" width="30.00" height="15.00" rx="0.00" fill="none" stroke="#8a8a8a" stroke-width="1.10"/>
<circle cx="362.50" cy="124.50" r="3.80" fill="#111"/>
<circle cx="425.00" cy="124.50" r="3.80" fill="#111"/>
<g transform="translate(367.68 94.50) scale(0.7221 1)" font-size="19.33" fill="#111"><text>PTC64</text><text x="0.762">PTC64</text></g>
<g transform="translate(367.66 134.50) scale(0.7111 1)" font-size="20.06" fill="#111"><text>PTC65</text><text x="0.773">PTC65</text></g>
<path d="M228.70 160.00 L446.80 160.00" fill="none" stroke="#1b1b1b" stroke-width="3.60" stroke-linecap="butt" stroke-linejoin="miter"/>
<circle cx="402.00" cy="160.00" r="4.20" fill="#111"/>
<circle cx="228.70" cy="53.00" r="3.40" fill="#fff" stroke="#2e2e2e" stroke-width="1.10"/>
<circle cx="228.70" cy="160.00" r="3.40" fill="#fff" stroke="#2e2e2e" stroke-width="1.10"/>
<circle cx="228.60" cy="215.50" r="3.40" fill="#fff" stroke="#2e2e2e" stroke-width="1.10"/>
<rect x="446.10" y="47.30" width="15.40" height="30.10" rx="0.00" fill="#fff" stroke="#8a8a8a" stroke-width="1.10"/>
<rect x="446.10" y="145.60" width="15.40" height="29.90" rx="0.00" fill="#fff" stroke="#8a8a8a" stroke-width="1.10"/>
<g transform="translate(440.19 45.00) scale(0.7151 1)" font-size="19.33" fill="#111"><text>DB41A</text><text x="0.769">DB41A</text></g>
<g transform="translate(440.18 191.30) scale(0.7269 1)" font-size="19.33" fill="#111"><text>DB41B</text><text x="0.757">DB41B</text></g>
<path d="M461.30 53.00 L541.30 53.00 L541.30 93.75 L557.00 93.75" fill="none" stroke="#1b1b1b" stroke-width="3.60" stroke-linecap="butt" stroke-linejoin="miter"/>
<path d="M461.30 71.75 L476.50 71.75 L476.50 169.50" fill="none" stroke="#1b1b1b" stroke-width="3.60" stroke-linecap="butt" stroke-linejoin="miter"/>
<path d="M491.30 53.00 L491.30 150.80 L461.30 150.80" fill="none" stroke="#1b1b1b" stroke-width="3.60" stroke-linecap="butt" stroke-linejoin="miter"/>
<path d="M506.30 53.00 L506.30 115.50 L557.00 115.50" fill="none" stroke="#1b1b1b" stroke-width="3.60" stroke-linecap="butt" stroke-linejoin="miter"/>
<circle cx="491.30" cy="53.00" r="4.20" fill="#111"/>
<circle cx="506.30" cy="53.00" r="4.20" fill="#111"/>
<circle cx="476.50" cy="169.50" r="4.20" fill="#111"/>
<path d="M461.30 169.50 L888.80 169.50" fill="none" stroke="#1b1b1b" stroke-width="3.60" stroke-linecap="butt" stroke-linejoin="miter"/>
<circle cx="520.80" cy="53.00" r="3.40" fill="#fff" stroke="#2e2e2e" stroke-width="1.10"/>
<circle cx="520.80" cy="115.50" r="3.40" fill="#fff" stroke="#2e2e2e" stroke-width="1.10"/>
<g transform="translate(525.00 47.74) rotate(-90) scale(0.5962 1)" font-size="19.91" fill="#111"><text>TAB3A</text><text x="0.922">TAB3A</text></g>
<g transform="translate(552.50 45.00) rotate(-90) scale(0.6933 1)" font-size="19.91" fill="#111"><text>WH</text><text x="0.793">WH</text></g>
<g transform="translate(527.50 162.23) rotate(-90) scale(0.5338 1)" font-size="21.80" fill="#111"><text>TAB3B</text><text x="1.030">TAB3B</text></g>
<g transform="translate(552.00 145.57) rotate(-90) scale(0.6596 1)" font-size="20.35" fill="#111"><text>RD</text><text x="0.834">RD</text></g>
<rect x="554.50" y="74.50" width="58.00" height="60.00" rx="0.00" fill="none" stroke="#8a8a8a" stroke-width="1.10"/>
<g transform="translate(575.75 72.50) scale(0.7786 1)" font-size="20.06" fill="#111"><text>L</text><text x="0.706">L</text></g>
<g transform="translate(560.97 90.50) scale(0.7369 1)" font-size="19.91" fill="#111"><text>2</text><text x="0.746">2</text></g>
<g transform="translate(593.24 90.50) scale(0.4445 1)" font-size="19.91" fill="#111"><text>1</text><text x="1.237">1</text></g>
<g transform="translate(561.03 131.60) scale(0.6948 1)" font-size="19.33" fill="#111"><text>4</text><text x="0.792">4</text></g>
<g transform="translate(593.75 131.60) scale(0.6628 1)" font-size="19.33" fill="#111"><text>3</text><text x="0.830">3</text></g>
<path d="M 564.5 93.40 L 569.30 93.40 L 569.30 97.40 A 3.425 3.425 0 0 0 576.15 97.40 A 3.425 3.425 0 0 0 583.00 97.40 A 3.425 3.425 0 0 0 589.85 97.40 A 3.425 3.425 0 0 0 596.70 97.40 L 596.70 93.40 L 602.6 93.40" fill="none" stroke="#2e2e2e" stroke-width="1.10"/>
<path d="M 564.5 115.50 L 569.30 115.50 L 569.30 111.40 A 3.425 3.425 0 0 1 576.15 111.40 A 3.425 3.425 0 0 1 583.00 111.40 A 3.425 3.425 0 0 1 589.85 111.40 A 3.425 3.425 0 0 1 596.70 111.40 L 596.70 115.50 L 602.6 115.50" fill="none" stroke="#2e2e2e" stroke-width="1.10"/>
<path d="M568.90 104.60 L598.00 104.60" fill="none" stroke="#2e2e2e" stroke-width="1.30" stroke-linecap="butt" stroke-linejoin="miter"/>
<circle cx="560.90" cy="93.40" r="3.60" fill="#fff" stroke="#2e2e2e" stroke-width="1.10"/>
<circle cx="606.20" cy="93.40" r="3.60" fill="#fff" stroke="#2e2e2e" stroke-width="1.10"/>
<circle cx="560.90" cy="115.50" r="3.60" fill="#fff" stroke="#2e2e2e" stroke-width="1.10"/>
<circle cx="606.20" cy="115.50" r="3.60" fill="#fff" stroke="#2e2e2e" stroke-width="1.10"/>
<path d="M609.20 93.75 L625.00 93.75 L625.00 53.00 L888.80 53.00" fill="none" stroke="#1b1b1b" stroke-width="3.60" stroke-linecap="butt" stroke-linejoin="miter"/>
<path d="M609.20 115.50 L721.30 115.50" fill="none" stroke="#1b1b1b" stroke-width="3.60" stroke-linecap="butt" stroke-linejoin="miter"/>
<circle cx="646.80" cy="53.00" r="3.40" fill="#fff" stroke="#2e2e2e" stroke-width="1.10"/>
<circle cx="646.80" cy="115.50" r="3.40" fill="#fff" stroke="#2e2e2e" stroke-width="1.10"/>
<g transform="translate(628.80 45.29) rotate(-90) scale(0.6555 1)" font-size="21.80" fill="#111"><text>YE</text><text x="0.839">YE</text></g>
<g transform="translate(628.80 145.65) rotate(-90) scale(0.6582 1)" font-size="21.80" fill="#111"><text>BU</text><text x="0.836">BU</text></g>
<g transform="translate(655.00 46.53) rotate(-90) scale(0.5266 1)" font-size="21.80" fill="#111"><text>TAB4A</text><text x="1.044">TAB4A</text></g>
<g transform="translate(655.50 162.74) rotate(-90) scale(0.5240 1)" font-size="22.53" fill="#111"><text>TAB4B</text><text x="1.050">TAB4B</text></g>
<circle cx="662.50" cy="53.00" r="4.20" fill="#111"/>
<circle cx="662.50" cy="169.50" r="4.20" fill="#111"/>
<path d="M662.50 53.00 L662.50 73.50 L679.30 80.50" fill="none" stroke="#2e2e2e" stroke-width="1.10" stroke-linecap="butt" stroke-linejoin="miter"/>
<path d="M679.30 73.50 L679.30 95.40" fill="none" stroke="#2e2e2e" stroke-width="1.20" stroke-linecap="butt" stroke-linejoin="miter"/>
<path d="M679.30 84.60 L687.70 84.60" fill="none" stroke="#2e2e2e" stroke-width="1.10" stroke-linecap="butt" stroke-linejoin="miter"/>
<path d="M679.30 88.20 L662.50 94.80 L662.50 169.50" fill="none" stroke="#2e2e2e" stroke-width="1.10" stroke-linecap="butt" stroke-linejoin="miter"/>
<path d="M 667.4 92.9 L 671.5 89.4 L 673.6 93.3 Z" fill="#2e2e2e" stroke="#2e2e2e" stroke-width="0.80"/>
<g transform="translate(657.50 96.84) rotate(-90) scale(0.5972 1)" font-size="19.91" fill="#111"><text>Q3A</text><text x="0.921">Q3A</text></g>
<circle cx="690.60" cy="115.50" r="4.20" fill="#111"/>
<circle cx="690.60" cy="169.50" r="4.20" fill="#111"/>
<path d="M690.60 115.50 L690.60 132.00 L707.60 138.00" fill="none" stroke="#2e2e2e" stroke-width="1.10" stroke-linecap="butt" stroke-linejoin="miter"/>
<path d="M707.60 132.00 L707.60 153.60" fill="none" stroke="#2e2e2e" stroke-width="1.20" stroke-linecap="butt" stroke-linejoin="miter"/>
<path d="M707.60 142.40 L715.50 142.40" fill="none" stroke="#2e2e2e" stroke-width="1.10" stroke-linecap="butt" stroke-linejoin="miter"/>
<path d="M707.60 146.70 L690.60 152.90 L690.60 169.50" fill="none" stroke="#2e2e2e" stroke-width="1.10" stroke-linecap="butt" stroke-linejoin="miter"/>
<path d="M 695.5 151.2 L 699.6 147.7 L 701.7 151.6 Z" fill="#2e2e2e" stroke="#2e2e2e" stroke-width="0.80"/>
<g transform="translate(686.30 156.00) rotate(-90) scale(0.5092 1)" font-size="21.80" fill="#111"><text>Q3B</text><text x="1.080">Q3B</text></g>
<path d="M888.80 53.00 L888.80 53.00" fill="none" stroke="#1b1b1b" stroke-width="3.60" stroke-linecap="butt" stroke-linejoin="miter"/>
<path d="M 721.50 42.40 L 739.50 53.00 L 721.50 63.60 Z" fill="#fff" stroke="#2e2e2e" stroke-width="1.10"/>
<path d="M740.00 41.90 L740.00 64.10" fill="none" stroke="#8a8a8a" stroke-width="1.10" stroke-linecap="butt" stroke-linejoin="miter"/>
<path d="M 721.50 104.90 L 739.50 115.50 L 721.50 126.10 Z" fill="#fff" stroke="#2e2e2e" stroke-width="1.10"/>
<path d="M740.00 104.40 L740.00 126.60" fill="none" stroke="#8a8a8a" stroke-width="1.10" stroke-linecap="butt" stroke-linejoin="miter"/>
<path d="M715.00 53.00 L740.00 53.00" fill="none" stroke="#1b1b1b" stroke-width="3.60" stroke-linecap="butt" stroke-linejoin="miter"/>
<path d="M715.00 115.50 L751.80 115.50 L751.80 53.00" fill="none" stroke="#1b1b1b" stroke-width="3.60" stroke-linecap="butt" stroke-linejoin="miter"/>
<g transform="translate(713.87 36.30) scale(0.7806 1)" font-size="18.17" fill="#111"><text>D3A</text><text x="0.705">D3A</text></g>
<g transform="translate(713.83 98.80) scale(0.8021 1)" font-size="18.17" fill="#111"><text>D3B</text><text x="0.686">D3B</text></g>
<circle cx="751.80" cy="53.00" r="4.20" fill="#111"/>
<circle cx="796.30" cy="53.00" r="4.20" fill="#111"/>
<path d="M796.30 53.00 L796.30 86.30" fill="none" stroke="#8a8a8a" stroke-width="1.10" stroke-linecap="butt" stroke-linejoin="miter"/>
<path d="M783.80 86.30 L808.30 86.30" fill="none" stroke="#8a8a8a" stroke-width="1.20" stroke-linecap="butt" stroke-linejoin="miter"/>
<path d="M783.80 101.30 L808.30 101.30" fill="none" stroke="#2e2e2e" stroke-width="1.20" stroke-linecap="butt" stroke-linejoin="miter"/>
<path d="M796.30 101.30 L796.30 143.00" fill="none" stroke="#8a8a8a" stroke-width="1.10" stroke-linecap="butt" stroke-linejoin="miter"/>
<g transform="translate(793.80 134.50) rotate(-90) scale(0.6384 1)" font-size="21.80" fill="#111"><text>CB1</text><text x="0.862">CB1</text></g>
<path d="M804.00 78.80 L811.20 78.80" fill="none" stroke="#1b1b1b" stroke-width="1.50" stroke-linecap="butt" stroke-linejoin="miter"/>
<path d="M807.60 75.00 L807.60 82.60" fill="none" stroke="#1b1b1b" stroke-width="1.50" stroke-linecap="butt" stroke-linejoin="miter"/>
<circle cx="830.50" cy="53.00" r="4.20" fill="#111"/>
<path d="M830.50 53.00 L830.50 86.30" fill="none" stroke="#8a8a8a" stroke-width="1.10" stroke-linecap="butt" stroke-linejoin="miter"/>
<path d="M818.00 86.30 L842.50 86.30" fill="none" stroke="#8a8a8a" stroke-width="1.20" stroke-linecap="butt" stroke-linejoin="miter"/>
<path d="M818.00 101.30 L842.50 101.30" fill="none" stroke="#2e2e2e" stroke-width="1.20" stroke-linecap="butt" stroke-linejoin="miter"/>
<path d="M830.50 101.30 L830.50 143.00" fill="none" stroke="#8a8a8a" stroke-width="1.10" stroke-linecap="butt" stroke-linejoin="miter"/>
<g transform="translate(828.80 134.50) rotate(-90) scale(0.6178 1)" font-size="22.53" fill="#111"><text>CB2</text><text x="0.890">CB2</text></g>
<path d="M838.20 78.80 L845.40 78.80" fill="none" stroke="#1b1b1b" stroke-width="1.50" stroke-linecap="butt" stroke-linejoin="miter"/>
<path d="M841.80 75.00 L841.80 82.60" fill="none" stroke="#1b1b1b" stroke-width="1.50" stroke-linecap="butt" stroke-linejoin="miter"/>
<circle cx="865.50" cy="53.00" r="4.20" fill="#111"/>
<path d="M865.50 53.00 L865.50 86.30" fill="none" stroke="#8a8a8a" stroke-width="1.10" stroke-linecap="butt" stroke-linejoin="miter"/>
<path d="M853.00 86.30 L877.50 86.30" fill="none" stroke="#8a8a8a" stroke-width="1.20" stroke-linecap="butt" stroke-linejoin="miter"/>
<path d="M853.00 101.30 L877.50 101.30" fill="none" stroke="#2e2e2e" stroke-width="1.20" stroke-linecap="butt" stroke-linejoin="miter"/>
<path d="M865.50 101.30 L865.50 143.00" fill="none" stroke="#8a8a8a" stroke-width="1.10" stroke-linecap="butt" stroke-linejoin="miter"/>
<g transform="translate(863.80 134.49) rotate(-90) scale(0.6161 1)" font-size="22.53" fill="#111"><text>CB3</text><text x="0.893">CB3</text></g>
<path d="M873.20 78.80 L880.40 78.80" fill="none" stroke="#1b1b1b" stroke-width="1.50" stroke-linecap="butt" stroke-linejoin="miter"/>
<path d="M876.80 75.00 L876.80 82.60" fill="none" stroke="#1b1b1b" stroke-width="1.50" stroke-linecap="butt" stroke-linejoin="miter"/>
<path d="M796.30 143.00 L865.50 143.00" fill="none" stroke="#2e2e2e" stroke-width="1.10" stroke-linecap="butt" stroke-linejoin="miter"/>
<circle cx="830.50" cy="143.00" r="4.20" fill="#111"/>
<path d="M830.50 143.00 L830.50 169.50" fill="none" stroke="#8a8a8a" stroke-width="1.10" stroke-linecap="butt" stroke-linejoin="miter"/>
<circle cx="830.50" cy="169.50" r="4.20" fill="#111"/>
<circle cx="774.50" cy="53.00" r="4.20" fill="#111"/>
<circle cx="802.50" cy="169.50" r="4.20" fill="#111"/>
<rect x="888.80" y="40.80" width="39.20" height="140.50" rx="0.00" fill="#fff" stroke="#8a8a8a" stroke-width="1.10"/>
<g transform="translate(879.23 36.30) scale(0.7321 1)" font-size="19.33" fill="#111"><text>IC700</text><text x="0.751">IC700</text></g>
<g transform="translate(889.69 60.50) scale(0.7370 1)" font-size="18.90" fill="#111"><text>P</text><text x="0.746">P</text></g>
<g transform="translate(913.76 60.50) scale(0.8774 1)" font-size="18.90" fill="#111"><text>U</text><text x="0.627">U</text></g>
<g transform="translate(916.30 118.80) scale(0.6110 1)" font-size="20.06" fill="#111"><text>V</text><text x="0.900">V</text></g>
<g transform="translate(889.75 175.00) scale(0.6574 1)" font-size="20.06" fill="#111"><text>N</text><text x="0.837">N</text></g>
<g transform="translate(915.50 175.00) scale(0.6304 1)" font-size="20.06" fill="#111"><text>W</text><text x="0.872">W</text></g>
<path d="M928.00 53.00 L1005.50 53.00" fill="none" stroke="#1b1b1b" stroke-width="3.60" stroke-linecap="butt" stroke-linejoin="miter"/>
<path d="M928.00 111.30 L975.50 111.30 L975.50 77.80 L1005.50 77.80" fill="none" stroke="#1b1b1b" stroke-width="3.60" stroke-linecap="butt" stroke-linejoin="miter"/>
<path d="M928.00 169.50 L994.40 169.50 L994.40 102.50 L1005.50 102.50" fill="none" stroke="#1b1b1b" stroke-width="3.60" stroke-linecap="butt" stroke-linejoin="miter"/>
<circle cx="942.00" cy="53.00" r="3.40" fill="#fff" stroke="#2e2e2e" stroke-width="1.10"/>
<circle cx="942.00" cy="111.30" r="3.40" fill="#fff" stroke="#2e2e2e" stroke-width="1.10"/>
<circle cx="942.00" cy="169.50" r="3.40" fill="#fff" stroke="#2e2e2e" stroke-width="1.10"/>
<g transform="translate(948.80 96.58) rotate(-90) scale(0.6462 1)" font-size="21.80" fill="#111"><text>TAB7</text><text x="0.851">TAB7</text></g>
<g transform="translate(948.80 154.07) rotate(-90) scale(0.6196 1)" font-size="21.80" fill="#111"><text>TAB8</text><text x="0.888">TAB8</text></g>
<g transform="translate(949.00 214.08) rotate(-90) scale(0.6462 1)" font-size="21.80" fill="#111"><text>TAB9</text><text x="0.851">TAB9</text></g>
<g transform="translate(962.30 70.00) scale(0.6928 1)" font-size="19.77" fill="#111"><text>BK</text><text x="0.794">BK</text></g>
<g transform="translate(963.40 129.00) scale(0.7472 1)" font-size="18.90" fill="#111"><text>WH</text><text x="0.736">WH</text></g>
<g transform="translate(962.97 186.20) scale(0.6718 1)" font-size="19.19" fill="#111"><text>RD</text><text x="0.819">RD</text></g>
<rect x="1001.30" y="43.60" width="33.50" height="68.70" rx="7.00" fill="none" stroke="#2e2e2e" stroke-width="1.10"/>
<path d="M1018.90 43.60 L1018.90 112.30" fill="none" stroke="#8a8a8a" stroke-width="1.20" stroke-linecap="butt" stroke-linejoin="miter"/>
<rect x="1005.50" y="50.10" width="9.20" height="6.00" fill="#1b1b1b"/>
<path d="M 1022.3 46.10 A 7 7 0 0 1 1022.3 60.10" fill="none" stroke="#2e2e2e" stroke-width="1.10"/>
<rect x="1005.50" y="74.80" width="9.20" height="6.00" fill="#1b1b1b"/>
<path d="M 1022.3 70.80 A 7 7 0 0 1 1022.3 84.80" fill="none" stroke="#2e2e2e" stroke-width="1.10"/>
<rect x="1005.50" y="99.50" width="9.20" height="6.00" fill="#1b1b1b"/>
<path d="M 1022.3 95.50 A 7 7 0 0 1 1022.3 109.50" fill="none" stroke="#2e2e2e" stroke-width="1.10"/>
<g transform="translate(1004.06 38.30) scale(0.3832 1)" font-size="18.90" fill="#111"><text>1</text><text x="1.435">1</text></g>
<g transform="translate(1021.84 38.30) scale(0.4684 1)" font-size="18.90" fill="#111"><text>1</text><text x="1.174">1</text></g>
<g transform="translate(1003.46 131.30) scale(0.6569 1)" font-size="19.19" fill="#111"><text>3</text><text x="0.837">3</text></g>
<g transform="translate(1021.49 131.30) scale(0.7547 1)" font-size="19.19" fill="#111"><text>3</text><text x="0.729">3</text></g>
<path d="M1029.30 53.10 L1068.50 53.10 L1089.00 60.00" fill="none" stroke="#1b1b1b" stroke-width="2.60" stroke-linecap="butt" stroke-linejoin="miter"/>
<path d="M1029.30 77.80 L1084.00 77.80" fill="none" stroke="#1b1b1b" stroke-width="2.60" stroke-linecap="butt" stroke-linejoin="miter"/>
<path d="M1029.30 102.50 L1070.60 102.50 L1089.00 95.50" fill="none" stroke="#1b1b1b" stroke-width="2.60" stroke-linecap="butt" stroke-linejoin="miter"/>
<g transform="translate(1039.90 48.10) scale(0.7248 1)" font-size="18.90" fill="#111"><text>BK</text><text x="0.759">BK</text></g>
<g transform="translate(1042.20 73.30) scale(0.7662 1)" font-size="17.44" fill="#111"><text>WH</text><text x="0.718">WH</text></g>
<g transform="translate(1039.90 98.40) scale(0.7304 1)" font-size="18.90" fill="#111"><text>RD</text><text x="0.753">RD</text></g>
<g transform="translate(1083.83 53.60) scale(0.8198 1)" font-size="17.44" fill="#111"><text>U</text><text x="0.671">U</text></g>
<g transform="translate(1072.80 93.00) scale(0.7113 1)" font-size="17.44" fill="#111"><text>V</text><text x="0.773">V</text></g>
<g transform="translate(1086.00 112.70) scale(0.7553 1)" font-size="17.44" fill="#111"><text>W</text><text x="0.728">W</text></g>
<g transform="translate(1105.51 44.80) scale(0.8500 1)" font-size="17.44" fill="#111"><text>MC</text><text x="0.647">MC</text></g>
<circle cx="1116.60" cy="77.70" r="25.20" fill="#fff" stroke="#2e2e2e" stroke-width="1.10"/>
<circle cx="1092.50" cy="61.30" r="3.40" fill="#fff" stroke="#2e2e2e" stroke-width="1.10"/>
<circle cx="1087.00" cy="77.70" r="3.40" fill="#fff" stroke="#2e2e2e" stroke-width="1.10"/>
<circle cx="1092.50" cy="94.00" r="3.40" fill="#fff" stroke="#2e2e2e" stroke-width="1.10"/>
<g transform="translate(1102.89 77.80) scale(0.6612 1)" font-size="22.97" fill="#111"><text>M</text><text x="0.832">M</text></g>
<g transform="translate(1118.50 77.80) scale(0.5931 1)" font-size="22.53" fill="#111"><text>S</text><text x="0.927">S</text></g>
<g transform="translate(1105.61 93.60) scale(0.6450 1)" font-size="21.80" fill="#111"><text>3</text><text x="0.853">3</text></g>
<g transform="translate(1119.84 96.00) scale(0.4688 1)" font-size="29.65" fill="#111"><text>~</text><text x="1.173">~</text></g>
<path d="M1141.20 61.50 L1149.30 61.50 L1149.30 95.00 L1141.20 95.00" fill="none" stroke="#1b1b1b" stroke-width="3.00" stroke-linecap="butt" stroke-linejoin="miter"/>
<path d="M338.00 53.00 L338.00 212.50 L515.50 212.50 L515.50 230.50" fill="none" stroke="#8a8a8a" stroke-width="1.10" stroke-linecap="butt" stroke-linejoin="miter"/>
<path d="M402.00 160.00 L402.00 196.30 L535.50 196.30 L535.50 426.30" fill="none" stroke="#8a8a8a" stroke-width="1.10" stroke-linecap="butt" stroke-linejoin="miter"/>
<rect x="507.50" y="230.50" width="15.00" height="29.50" rx="0.00" fill="none" stroke="#8a8a8a" stroke-width="1.10"/>
<path d="M515.50 212.50 L515.50 321.30" fill="none" stroke="#2e2e2e" stroke-width="1.10" stroke-linecap="butt" stroke-linejoin="miter"/>
<g transform="translate(505.00 266.05) rotate(-90) scale(0.5991 1)" font-size="21.80" fill="#111"><text>F601</text><text x="0.918">F601</text></g>
<circle cx="515.50" cy="278.30" r="4.20" fill="#111"/>
<circle cx="535.50" cy="298.80" r="4.20" fill="#111"/>
<path d="M515.50 278.30 L440.80 278.30 L440.80 321.30" fill="none" stroke="#2e2e2e" stroke-width="1.10" stroke-linecap="butt" stroke-linejoin="miter"/>
<path d="M535.50 298.80 L460.80 298.80 L460.80 426.30" fill="none" stroke="#2e2e2e" stroke-width="1.10" stroke-linecap="butt" stroke-linejoin="miter"/>
<rect x="426.30" y="313.30" width="29.20" height="49.70" rx="0.00" fill="none" stroke="#8a8a8a" stroke-width="1.10"/>
<path d="M429.80 323.80 L440.80 352.50" fill="none" stroke="#2e2e2e" stroke-width="1.10" stroke-linecap="butt" stroke-linejoin="miter"/>
<path d="M440.80 352.50 L440.80 426.30" fill="none" stroke="#2e2e2e" stroke-width="1.10" stroke-linecap="butt" stroke-linejoin="miter"/>
<g transform="translate(424.30 360.27) rotate(-90) scale(0.6496 1)" font-size="20.79" fill="#111"><text>X601</text><text x="0.847">X601</text></g>
<rect x="500.50" y="313.30" width="29.50" height="49.70" rx="0.00" fill="none" stroke="#8a8a8a" stroke-width="1.10"/>
<path d="M504.50 323.80 L515.50 352.50" fill="none" stroke="#2e2e2e" stroke-width="1.10" stroke-linecap="butt" stroke-linejoin="miter"/>
<path d="M515.50 352.50 L515.50 426.30" fill="none" stroke="#2e2e2e" stroke-width="1.10" stroke-linecap="butt" stroke-linejoin="miter"/>
<g transform="translate(498.30 360.29) rotate(-90) scale(0.6929 1)" font-size="21.08" fill="#111"><text>X602</text><text x="0.794">X602</text></g>
<path d="M440.80 278.30 L440.80 321.30" fill="none" stroke="#2e2e2e" stroke-width="1.10" stroke-linecap="butt" stroke-linejoin="miter"/>
<path d="M 572.5 197.5 L 594.5 197.5 L 583.8 216.3 Z" fill="none" stroke="#2e2e2e" stroke-width="1.10"/>
<path d="M572.50 216.30 L594.50 216.30" fill="none" stroke="#2e2e2e" stroke-width="1.10" stroke-linecap="butt" stroke-linejoin="miter"/>
<path d="M583.80 187.00 L583.80 227.00" fill="none" stroke="#2e2e2e" stroke-width="1.10" stroke-linecap="butt" stroke-linejoin="miter"/>
<path d="M594.00 203.00 L603.00 188.00" fill="none" stroke="#2e2e2e" stroke-width="1.00" stroke-linecap="butt" stroke-linejoin="miter"/>
<path d="M598.00 205.00 L607.50 189.00" fill="none" stroke="#2e2e2e" stroke-width="1.00" stroke-linecap="butt" stroke-linejoin="miter"/>
<path d="M 600.5 189.5 L 604 186.5 L 603.5 191.5 Z" fill="#2e2e2e" stroke="#2e2e2e" stroke-width="0.80"/>
<path d="M 605 191 L 609 187.5 L 608.3 193 Z" fill="#2e2e2e" stroke="#2e2e2e" stroke-width="0.80"/>
<g transform="translate(565.88 244.50) scale(0.7233 1)" font-size="19.33" fill="#111"><text>LED</text><text x="0.760">LED</text></g>
<g transform="translate(553.22 277.00) scale(0.7008 1)" font-size="20.35" fill="#111"><text>INVERTER</text><text x="0.785">INVERTER</text></g>
<g transform="translate(633.80 277.00) scale(0.7401 1)" font-size="20.35" fill="#111"><text>P.C.</text><text x="0.743">P.C.</text></g>
<g transform="translate(674.85 277.00) scale(0.7042 1)" font-size="20.35" fill="#111"><text>BOARD</text><text x="0.781">BOARD</text></g>
<g transform="translate(643.73 323.60) scale(0.6794 1)" font-size="19.77" fill="#111"><text>T801</text><text x="0.809">T801</text></g>
<path d="M638.90 330.50 L654.40 330.50" fill="none" stroke="#2e2e2e" stroke-width="1.10" stroke-linecap="butt" stroke-linejoin="miter"/>
<path d="M 654.40 330.50 A 4.96 4.96 0 0 1 654.40 340.43 A 4.96 4.96 0 0 1 654.40 350.35 A 4.96 4.96 0 0 1 654.40 360.27 A 4.96 4.96 0 0 1 654.40 370.20" fill="none" stroke="#2e2e2e" stroke-width="1.10"/>
<path d="M638.90 370.20 L654.40 370.20" fill="none" stroke="#2e2e2e" stroke-width="1.10" stroke-linecap="butt" stroke-linejoin="miter"/>
<path d="M664.70 328.00 L664.70 372.00" fill="none" stroke="#2e2e2e" stroke-width="1.20" stroke-linecap="butt" stroke-linejoin="miter"/>
<path d="M 674.30 330.50 A 4.96 4.96 0 0 0 674.30 340.43 A 4.96 4.96 0 0 0 674.30 350.35 A 4.96 4.96 0 0 0 674.30 360.27 A 4.96 4.96 0 0 0 674.30 370.20" fill="none" stroke="#2e2e2e" stroke-width="1.10"/>
<path d="M674.30 330.50 L951.50 330.50" fill="none" stroke="#2e2e2e" stroke-width="1.10" stroke-linecap="butt" stroke-linejoin="miter"/>
<path d="M674.30 370.20 L951.50 370.20" fill="none" stroke="#2e2e2e" stroke-width="1.10" stroke-linecap="butt" stroke-linejoin="miter"/>
<rect x="704.50" y="323.20" width="30.30" height="14.80" rx="0.00" fill="none" stroke="#8a8a8a" stroke-width="1.10"/>
<rect x="862.50" y="323.20" width="30.00" height="14.80" rx="0.00" fill="none" stroke="#8a8a8a" stroke-width="1.10"/>
<g transform="translate(697.69 319.50) scale(0.7204 1)" font-size="19.33" fill="#111"><text>F880</text><text x="0.763">F880</text></g>
<g transform="translate(855.91 319.50) scale(0.7069 1)" font-size="19.33" fill="#111"><text>F901</text><text x="0.778">F901</text></g>
<path d="M774.50 53.00 L774.50 330.50" fill="none" stroke="#2e2e2e" stroke-width="1.10" stroke-linecap="butt" stroke-linejoin="miter"/>
<circle cx="774.50" cy="330.50" r="4.20" fill="#111"/>
<path d="M802.50 169.50 L802.50 370.00" fill="none" stroke="#2e2e2e" stroke-width="1.10" stroke-linecap="butt" stroke-linejoin="miter"/>
<circle cx="802.50" cy="370.00" r="4.20" fill="#111"/>
<rect x="951.50" y="310.80" width="39.50" height="78.50" rx="0.00" fill="#fff" stroke="#8a8a8a" stroke-width="1.10"/>
<g transform="translate(944.03 305.00) scale(0.7756 1)" font-size="18.17" fill="#111"><text>IC932</text><text x="0.709">IC932</text></g>
<circle cx="909.20" cy="233.80" r="4.50" fill="#111"/>
<path d="M909.20 233.80 L1044.00 233.80 L1044.00 258.00" fill="none" stroke="#8a8a8a" stroke-width="1.10" stroke-linecap="butt" stroke-linejoin="miter"/>
<path d="M 1031.68 273.22 A 12.60 12.60 0 1 1 1056.32 273.22" fill="none" stroke="#2e2e2e" stroke-width="1.10"/>
<path d="M1044.00 258.00 L1044.00 267.40" fill="none" stroke="#8a8a8a" stroke-width="1.10" stroke-linecap="butt" stroke-linejoin="miter"/>
<path d="M1035.20 267.40 L1052.80 267.40" fill="none" stroke="#2e2e2e" stroke-width="1.20" stroke-linecap="butt" stroke-linejoin="miter"/>
<path d="M1038.00 270.00 L1050.00 270.00" fill="none" stroke="#8a8a8a" stroke-width="1.20" stroke-linecap="butt" stroke-linejoin="miter"/>
<path d="M1041.00 272.30 L1047.00 272.30" fill="none" stroke="#2e2e2e" stroke-width="1.20" stroke-linecap="butt" stroke-linejoin="miter"/>
<g transform="translate(917.33 250.50) scale(0.8031 1)" font-size="18.17" fill="#111"><text>LD9</text><text x="0.685">LD9</text></g>
<g transform="translate(981.67 250.50) scale(0.7803 1)" font-size="18.17" fill="#111"><text>BK</text><text x="0.705">BK</text></g>
<g transform="translate(1106.68 206.30) scale(0.7718 1)" font-size="18.17" fill="#111"><text>MF</text><text x="0.713">MF</text></g>
<circle cx="1117.00" cy="238.80" r="25.00" fill="#fff" stroke="#2e2e2e" stroke-width="1.10"/>
<g transform="translate(1103.40 238.20) scale(0.6548 1)" font-size="22.97" fill="#111"><text>M</text><text x="0.840">M</text></g>
<g transform="translate(1118.99 238.20) scale(0.6126 1)" font-size="22.09" fill="#111"><text>S</text><text x="0.898">S</text></g>
<g transform="translate(1106.31 254.00) scale(0.6450 1)" font-size="21.80" fill="#111"><text>3</text><text x="0.853">3</text></g>
<g transform="translate(1120.44 256.40) scale(0.4688 1)" font-size="29.65" fill="#111"><text>~</text><text x="1.173">~</text></g>
<path d="M1141.20 221.50 L1149.30 221.50 L1149.30 255.00 L1141.20 255.00" fill="none" stroke="#1b1b1b" stroke-width="3.00" stroke-linecap="butt" stroke-linejoin="miter"/>
<g transform="translate(1102.28 301.30) scale(0.7549 1)" font-size="17.15" fill="#111"><text>8</text><text x="0.729">8</text></g>
<path d="M1108.50 312.50 L1126.00 295.80" fill="none" stroke="#2e2e2e" stroke-width="1.10" stroke-linecap="butt" stroke-linejoin="miter"/>
<path d="M1117.80 263.80 L1117.80 490.50" fill="none" stroke="#2e2e2e" stroke-width="1.10" stroke-linecap="butt" stroke-linejoin="miter"/>
<path d="M 991 330.50 L 1112.8 330.50 Q 1117.8 330.50 1117.8 325.50" fill="none" stroke="#2e2e2e" stroke-width="1.10"/>
<path d="M 991 350.00 L 1112.8 350.00 Q 1117.8 350.00 1117.8 345.00" fill="none" stroke="#2e2e2e" stroke-width="1.10"/>
<path d="M 991 370.00 L 1112.8 370.00 Q 1117.8 370.00 1117.8 365.00" fill="none" stroke="#2e2e2e" stroke-width="1.10"/>
<path d="M 1072.8 436.30 L 1112.8 436.30 Q 1117.8 436.30 1117.8 431.30" fill="none" stroke="#2e2e2e" stroke-width="1.10"/>
<path d="M 1072.8 451.30 L 1112.8 451.30 Q 1117.8 451.30 1117.8 446.30" fill="none" stroke="#2e2e2e" stroke-width="1.10"/>
<path d="M 1072.8 465.80 L 1112.8 465.80 Q 1117.8 465.80 1117.8 460.80" fill="none" stroke="#2e2e2e" stroke-width="1.10"/>
<path d="M 1072.8 480.50 L 1112.8 480.50 Q 1117.8 480.50 1117.8 475.50" fill="none" stroke="#2e2e2e" stroke-width="1.10"/>
<path d="M 1072.8 495.50 L 1112.8 495.50 Q 1117.8 495.50 1117.8 490.50" fill="none" stroke="#2e2e2e" stroke-width="1.10"/>
<rect x="1062.80" y="320.00" width="20.00" height="60.00" rx="0.00" fill="#fff" stroke="#2e2e2e" stroke-width="1.10"/>
<circle cx="1072.80" cy="330.50" r="4.60" fill="#fff" stroke="#2e2e2e" stroke-width="1.10"/>
<path d="M1077.40 330.50 L1092.80 330.50" fill="none" stroke="#2e2e2e" stroke-width="1.10" stroke-linecap="butt" stroke-linejoin="miter"/>
<circle cx="1072.80" cy="350.00" r="4.60" fill="#fff" stroke="#2e2e2e" stroke-width="1.10"/>
<path d="M1077.40 350.00 L1092.80 350.00" fill="none" stroke="#2e2e2e" stroke-width="1.10" stroke-linecap="butt" stroke-linejoin="miter"/>
<circle cx="1072.80" cy="370.00" r="4.60" fill="#fff" stroke="#2e2e2e" stroke-width="1.10"/>
<path d="M1077.40 370.00 L1092.80 370.00" fill="none" stroke="#2e2e2e" stroke-width="1.10" stroke-linecap="butt" stroke-linejoin="miter"/>
<rect x="1062.80" y="426.30" width="20.00" height="78.70" rx="0.00" fill="#fff" stroke="#2e2e2e" stroke-width="1.10"/>
<circle cx="1072.80" cy="436.30" r="4.60" fill="#fff" stroke="#2e2e2e" stroke-width="1.10"/>
<path d="M1077.40 436.30 L1092.80 436.30" fill="none" stroke="#2e2e2e" stroke-width="1.10" stroke-linecap="butt" stroke-linejoin="miter"/>
<circle cx="1072.80" cy="451.30" r="4.60" fill="#fff" stroke="#2e2e2e" stroke-width="1.10"/>
<path d="M1077.40 451.30 L1092.80 451.30" fill="none" stroke="#2e2e2e" stroke-width="1.10" stroke-linecap="butt" stroke-linejoin="miter"/>
<circle cx="1072.80" cy="465.80" r="4.60" fill="#fff" stroke="#2e2e2e" stroke-width="1.10"/>
<path d="M1077.40 465.80 L1092.80 465.80" fill="none" stroke="#2e2e2e" stroke-width="1.10" stroke-linecap="butt" stroke-linejoin="miter"/>
<circle cx="1072.80" cy="480.50" r="4.60" fill="#fff" stroke="#2e2e2e" stroke-width="1.10"/>
<path d="M1077.40 480.50 L1092.80 480.50" fill="none" stroke="#2e2e2e" stroke-width="1.10" stroke-linecap="butt" stroke-linejoin="miter"/>
<circle cx="1072.80" cy="495.50" r="4.60" fill="#fff" stroke="#2e2e2e" stroke-width="1.10"/>
<path d="M1077.40 495.50 L1092.80 495.50" fill="none" stroke="#2e2e2e" stroke-width="1.10" stroke-linecap="butt" stroke-linejoin="miter"/>
<g transform="translate(1058.50 421.98) rotate(-90) scale(0.5923 1)" font-size="22.82" fill="#111"><text>CN932</text><text x="0.929">CN932</text></g>
<g transform="translate(1058.50 491.98) rotate(-90) scale(0.5923 1)" font-size="22.82" fill="#111"><text>CN931</text><text x="0.929">CN931</text></g>
<g transform="translate(1080.20 321.51) rotate(-90) scale(0.6978 1)" font-size="17.30" fill="#111"><text>1</text><text x="0.788">1</text></g>
<g transform="translate(1081.50 392.74) rotate(-90) scale(1.4548 1)" font-size="14.54" fill="#111"><text>3</text><text x="0.378">3</text></g>
<g transform="translate(1079.90 427.49) rotate(-90) scale(0.7022 1)" font-size="16.86" fill="#111"><text>1</text><text x="0.783">1</text></g>
<g transform="translate(1080.30 518.09) rotate(-90) scale(0.6711 1)" font-size="21.80" fill="#111"><text>5</text><text x="0.820">5</text></g>
<rect x="431.30" y="426.30" width="39.20" height="20.00" rx="0.00" fill="#fff" stroke="#2e2e2e" stroke-width="1.10"/>
<circle cx="440.80" cy="436.30" r="4.50" fill="#fff" stroke="#2e2e2e" stroke-width="1.10"/>
<circle cx="460.80" cy="436.30" r="4.50" fill="#fff" stroke="#2e2e2e" stroke-width="1.10"/>
<g transform="translate(436.30 423.20) rotate(-90) scale(0.6382 1)" font-size="21.80" fill="#111"><text>CN601</text><text x="0.862">CN601</text></g>
<g transform="translate(425.53 462.50) scale(0.5414 1)" font-size="18.90" fill="#111"><text>1</text><text x="1.016">1</text></g>
<g transform="translate(463.04 462.50) scale(0.7996 1)" font-size="18.90" fill="#111"><text>2</text><text x="0.688">2</text></g>
<rect x="505.50" y="426.30" width="40.00" height="20.00" rx="0.00" fill="#fff" stroke="#2e2e2e" stroke-width="1.10"/>
<circle cx="515.50" cy="436.30" r="4.50" fill="#fff" stroke="#2e2e2e" stroke-width="1.10"/>
<circle cx="535.50" cy="436.30" r="4.50" fill="#fff" stroke="#2e2e2e" stroke-width="1.10"/>
<g transform="translate(511.30 423.20) rotate(-90) scale(0.6382 1)" font-size="21.80" fill="#111"><text>CN602</text><text x="0.862">CN602</text></g>
<g transform="translate(499.23 463.00) scale(0.5414 1)" font-size="18.90" fill="#111"><text>1</text><text x="1.016">1</text></g>
<g transform="translate(538.04 463.00) scale(0.7996 1)" font-size="18.90" fill="#111"><text>2</text><text x="0.688">2</text></g>
<path d="M515.50 441.00 L515.50 508.30" fill="none" stroke="#2e2e2e" stroke-width="1.10" stroke-linecap="butt" stroke-linejoin="miter"/>
<path d="M535.50 441.00 L535.50 508.30" fill="none" stroke="#8a8a8a" stroke-width="1.10" stroke-linecap="butt" stroke-linejoin="miter"/>
<rect x="500.50" y="508.30" width="49.50" height="30.00" rx="0.00" fill="#fff" stroke="#2e2e2e" stroke-width="1.10"/>
<g transform="translate(503.79 530.50) scale(0.8105 1)" font-size="17.44" fill="#111"><text>21S4</text><text x="0.679">21S4</text></g>
<g transform="translate(600.60 420.50) scale(0.7437 1)" font-size="18.90" fill="#111"><text>CN724</text><text x="0.740">CN724</text></g>
<g transform="translate(573.73 462.50) scale(0.5414 1)" font-size="18.90" fill="#111"><text>1</text><text x="1.016">1</text></g>
<g transform="translate(666.25 462.50) scale(0.7910 1)" font-size="18.90" fill="#111"><text>6</text><text x="0.695">6</text></g>
<path d="M 589.5 441 L 589.5 473 Q 589.5 477.5 594 477.5 L 664.5 477.5" fill="none" stroke="#2e2e2e" stroke-width="1.10"/>
<path d="M 664.5 441 L 664.5 473 Q 664.5 477.5 660 477.5" fill="none" stroke="#2e2e2e" stroke-width="1.10"/>
<path d="M 649.5 441 L 649.5 473 Q 649.5 477.5 645 477.5" fill="none" stroke="#2e2e2e" stroke-width="1.10"/>
<path d="M 619.5 441 L 619.5 473 Q 619.5 477.5 624 479 Q 627 481 627 485" fill="none" stroke="#2e2e2e" stroke-width="1.10"/>
<path d="M 634.5 441 L 634.5 473 Q 634.5 477.5 630 479 Q 627 481 627 485" fill="none" stroke="#2e2e2e" stroke-width="1.10"/>
<path d="M627.00 485.00 L627.00 509.00" fill="none" stroke="#2e2e2e" stroke-width="1.10" stroke-linecap="butt" stroke-linejoin="miter"/>
<rect x="579.50" y="426.30" width="95.00" height="20.00" rx="0.00" fill="#fff" stroke="#2e2e2e" stroke-width="1.10"/>
<circle cx="589.50" cy="436.30" r="4.50" fill="#fff" stroke="#2e2e2e" stroke-width="1.10"/>
<circle cx="604.50" cy="436.30" r="4.50" fill="#fff" stroke="#2e2e2e" stroke-width="1.10"/>
<circle cx="619.50" cy="436.30" r="4.50" fill="#fff" stroke="#2e2e2e" stroke-width="1.10"/>
<circle cx="634.50" cy="436.30" r="4.50" fill="#fff" stroke="#2e2e2e" stroke-width="1.10"/>
<circle cx="649.50" cy="436.30" r="4.50" fill="#fff" stroke="#2e2e2e" stroke-width="1.10"/>
<circle cx="664.50" cy="436.30" r="4.50" fill="#fff" stroke="#2e2e2e" stroke-width="1.10"/>
<g transform="translate(612.02 499.50) scale(0.6940 1)" font-size="17.44" fill="#111"><text>5</text><text x="0.792">5</text></g>
<path d="M619.50 506.30 L632.50 493.30" fill="none" stroke="#2e2e2e" stroke-width="1.10" stroke-linecap="butt" stroke-linejoin="miter"/>
<circle cx="627.00" cy="534.50" r="25.50" fill="#fff" stroke="#2e2e2e" stroke-width="1.10"/>
<g transform="translate(618.29 534.50) scale(1.1074 1)" font-size="19.33" fill="#111"><text>M</text><text x="0.497">M</text></g>
<path d="M616.30 550.00 L616.30 545.50 L638.80 545.50 L638.80 540.00" fill="none" stroke="#2e2e2e" stroke-width="1.10" stroke-linecap="butt" stroke-linejoin="miter"/>
<g transform="translate(608.92 581.30) scale(0.6988 1)" font-size="19.33" fill="#111"><text>LEV</text><text x="0.787">LEV</text></g>
<rect x="708.80" y="426.30" width="40.00" height="20.00" rx="0.00" fill="#fff" stroke="#2e2e2e" stroke-width="1.10"/>
<circle cx="718.80" cy="436.30" r="4.50" fill="#fff" stroke="#2e2e2e" stroke-width="1.10"/>
<circle cx="738.80" cy="436.30" r="4.50" fill="#fff" stroke="#2e2e2e" stroke-width="1.10"/>
<g transform="translate(702.30 420.50) scale(0.7363 1)" font-size="18.90" fill="#111"><text>CN672</text><text x="0.747">CN672</text></g>
<g transform="translate(702.58 462.50) scale(0.5049 1)" font-size="18.90" fill="#111"><text>1</text><text x="1.089">1</text></g>
<g transform="translate(740.47 462.50) scale(0.8801 1)" font-size="18.90" fill="#111"><text>2</text><text x="0.625">2</text></g>
<path d="M718.80 441.00 L718.80 508.60" fill="none" stroke="#2e2e2e" stroke-width="1.10" stroke-linecap="butt" stroke-linejoin="miter"/>
<rect x="712.00" y="508.60" width="13.00" height="29.70" rx="0.00" fill="none" stroke="#2e2e2e" stroke-width="1.10"/>
<path d="M718.80 538.30 L718.80 555.00 L738.80 555.00 L738.80 441.00" fill="none" stroke="#2e2e2e" stroke-width="1.10" stroke-linecap="butt" stroke-linejoin="miter"/>
<path d="M700.90 532.00 L706.70 532.00" fill="none" stroke="#8a8a8a" stroke-width="1.20" stroke-linecap="butt" stroke-linejoin="miter"/>
<path d="M706.70 532.00 L729.60 508.60" fill="none" stroke="#2e2e2e" stroke-width="1.10" stroke-linecap="butt" stroke-linejoin="miter"/>
<g transform="translate(692.31 554.50) scale(0.6615 1)" font-size="18.90" fill="#111"><text>t</text><text x="0.831">t</text></g>
<circle cx="699.30" cy="543.30" r="2.00" fill="none" stroke="#2e2e2e" stroke-width="1.10"/>
<g transform="translate(706.37 575.50) scale(0.7450 1)" font-size="18.90" fill="#111"><text>RT65</text><text x="0.738">RT65</text></g>
<rect x="783.80" y="426.30" width="118.70" height="20.00" rx="0.00" fill="#fff" stroke="#2e2e2e" stroke-width="1.10"/>
<circle cx="793.00" cy="436.30" r="4.50" fill="#fff" stroke="#2e2e2e" stroke-width="1.10"/>
<circle cx="813.00" cy="436.30" r="4.50" fill="#fff" stroke="#2e2e2e" stroke-width="1.10"/>
<circle cx="833.00" cy="436.30" r="4.50" fill="#fff" stroke="#2e2e2e" stroke-width="1.10"/>
<circle cx="852.80" cy="436.30" r="4.50" fill="#fff" stroke="#2e2e2e" stroke-width="1.10"/>
<circle cx="872.80" cy="436.30" r="4.50" fill="#fff" stroke="#2e2e2e" stroke-width="1.10"/>
<circle cx="892.80" cy="436.30" r="4.50" fill="#fff" stroke="#2e2e2e" stroke-width="1.10"/>
<g transform="translate(816.30 420.50) scale(0.7363 1)" font-size="18.90" fill="#111"><text>CN671</text><text x="0.747">CN671</text></g>
<g transform="translate(776.73 462.50) scale(0.5414 1)" font-size="18.90" fill="#111"><text>1</text><text x="1.016">1</text></g>
<g transform="translate(895.69 462.50) scale(0.6430 1)" font-size="18.90" fill="#111"><text>6</text><text x="0.855">6</text></g>
<path d="M793.00 441.00 L793.00 508.60" fill="none" stroke="#2e2e2e" stroke-width="1.10" stroke-linecap="butt" stroke-linejoin="miter"/>
<rect x="786.80" y="508.60" width="12.50" height="29.70" rx="0.00" fill="none" stroke="#2e2e2e" stroke-width="1.10"/>
<path d="M793.00 538.30 L793.00 555.00 L813.00 555.00 L813.00 441.00" fill="none" stroke="#2e2e2e" stroke-width="1.10" stroke-linecap="butt" stroke-linejoin="miter"/>
<path d="M775.70 532.00 L781.50 532.00" fill="none" stroke="#8a8a8a" stroke-width="1.20" stroke-linecap="butt" stroke-linejoin="miter"/>
<path d="M781.50 532.00 L803.90 508.60" fill="none" stroke="#2e2e2e" stroke-width="1.10" stroke-linecap="butt" stroke-linejoin="miter"/>
<g transform="translate(771.11 554.50) scale(0.6615 1)" font-size="18.90" fill="#111"><text>t</text><text x="0.831">t</text></g>
<circle cx="778.10" cy="543.30" r="2.00" fill="none" stroke="#2e2e2e" stroke-width="1.10"/>
<path d="M833.00 441.00 L833.00 508.60" fill="none" stroke="#2e2e2e" stroke-width="1.10" stroke-linecap="butt" stroke-linejoin="miter"/>
<rect x="826.30" y="508.60" width="13.00" height="29.70" rx="0.00" fill="none" stroke="#2e2e2e" stroke-width="1.10"/>
<path d="M833.00 538.30 L833.00 555.00 L852.80 555.00 L852.80 441.00" fill="none" stroke="#2e2e2e" stroke-width="1.10" stroke-linecap="butt" stroke-linejoin="miter"/>
<path d="M815.20 532.00 L821.00 532.00" fill="none" stroke="#8a8a8a" stroke-width="1.20" stroke-linecap="butt" stroke-linejoin="miter"/>
<path d="M821.00 532.00 L843.90 508.60" fill="none" stroke="#2e2e2e" stroke-width="1.10" stroke-linecap="butt" stroke-linejoin="miter"/>
<g transform="translate(813.61 554.50) scale(0.6615 1)" font-size="18.90" fill="#111"><text>t</text><text x="0.831">t</text></g>
<circle cx="820.60" cy="543.30" r="2.00" fill="none" stroke="#2e2e2e" stroke-width="1.10"/>
<path d="M872.80 441.00 L872.80 508.60" fill="none" stroke="#2e2e2e" stroke-width="1.10" stroke-linecap="butt" stroke-linejoin="miter"/>
<rect x="865.80" y="508.60" width="13.00" height="29.70" rx="0.00" fill="none" stroke="#2e2e2e" stroke-width="1.10"/>
<path d="M872.80 538.30 L872.80 555.00 L892.80 555.00 L892.80 441.00" fill="none" stroke="#2e2e2e" stroke-width="1.10" stroke-linecap="butt" stroke-linejoin="miter"/>
<path d="M854.70 532.00 L860.50 532.00" fill="none" stroke="#8a8a8a" stroke-width="1.20" stroke-linecap="butt" stroke-linejoin="miter"/>
<path d="M860.50 532.00 L883.40 508.60" fill="none" stroke="#2e2e2e" stroke-width="1.10" stroke-linecap="butt" stroke-linejoin="miter"/>
<g transform="translate(852.81 554.50) scale(0.6615 1)" font-size="18.90" fill="#111"><text>t</text><text x="0.831">t</text></g>
<circle cx="859.80" cy="543.30" r="2.00" fill="none" stroke="#2e2e2e" stroke-width="1.10"/>
<g transform="translate(770.89 575.00) scale(0.7352 1)" font-size="18.90" fill="#111"><text>RT61</text><text x="0.748">RT61</text></g>
<g transform="translate(820.87 575.00) scale(0.7467 1)" font-size="18.90" fill="#111"><text>RT62</text><text x="0.737">RT62</text></g>
<g transform="translate(870.17 575.00) scale(0.7496 1)" font-size="18.90" fill="#111"><text>RT68</text><text x="0.734">RT68</text></g>
<rect x="936.50" y="426.30" width="40.00" height="20.00" rx="0.00" fill="#fff" stroke="#2e2e2e" stroke-width="1.10"/>
<circle cx="946.50" cy="436.30" r="4.50" fill="#fff" stroke="#2e2e2e" stroke-width="1.10"/>
<circle cx="966.50" cy="436.30" r="4.50" fill="#fff" stroke="#2e2e2e" stroke-width="1.10"/>
<g transform="translate(930.30 420.80) scale(0.7271 1)" font-size="19.33" fill="#111"><text>CN673</text><text x="0.756">CN673</text></g>
<g transform="translate(930.73 462.50) scale(0.5414 1)" font-size="18.90" fill="#111"><text>1</text><text x="1.016">1</text></g>
<g transform="translate(969.54 462.50) scale(0.7996 1)" font-size="18.90" fill="#111"><text>2</text><text x="0.688">2</text></g>
<path d="M946.50 441.00 L946.50 508.60" fill="none" stroke="#2e2e2e" stroke-width="1.10" stroke-linecap="butt" stroke-linejoin="miter"/>
<rect x="940.30" y="508.60" width="13.20" height="29.70" rx="0.00" fill="none" stroke="#2e2e2e" stroke-width="1.10"/>
<path d="M946.50 538.30 L946.50 555.00 L966.50 555.00 L966.50 441.00" fill="none" stroke="#2e2e2e" stroke-width="1.10" stroke-linecap="butt" stroke-linejoin="miter"/>
<path d="M929.20 532.00 L935.00 532.00" fill="none" stroke="#8a8a8a" stroke-width="1.20" stroke-linecap="butt" stroke-linejoin="miter"/>
<path d="M935.00 532.00 L958.10 508.60" fill="none" stroke="#2e2e2e" stroke-width="1.10" stroke-linecap="butt" stroke-linejoin="miter"/>
<g transform="translate(920.81 554.50) scale(0.6615 1)" font-size="18.90" fill="#111"><text>t</text><text x="0.831">t</text></g>
<circle cx="927.80" cy="543.30" r="2.00" fill="none" stroke="#2e2e2e" stroke-width="1.10"/>
<g transform="translate(934.88 575.50) scale(0.7402 1)" font-size="18.90" fill="#111"><text>RT64</text><text x="0.743">RT64</text></g>
<circle cx="368.80" cy="411.30" r="4.60" fill="#111"/>
<circle cx="368.80" cy="443.80" r="4.60" fill="#111"/>
<path d="M368.80 411.30 L257.00 411.30 L257.00 456.00" fill="none" stroke="#8a8a8a" stroke-width="1.10" stroke-linecap="butt" stroke-linejoin="miter"/>
<path d="M368.80 443.80 L306.30 443.80 L306.30 456.00" fill="none" stroke="#8a8a8a" stroke-width="1.10" stroke-linecap="butt" stroke-linejoin="miter"/>
<path d="M 244.68 471.22 A 12.60 12.60 0 1 1 269.32 471.22" fill="none" stroke="#2e2e2e" stroke-width="1.10"/>
<path d="M257.00 456.00 L257.00 465.40" fill="none" stroke="#8a8a8a" stroke-width="1.10" stroke-linecap="butt" stroke-linejoin="miter"/>
<path d="M248.20 465.40 L265.80 465.40" fill="none" stroke="#2e2e2e" stroke-width="1.20" stroke-linecap="butt" stroke-linejoin="miter"/>
<path d="M251.00 468.00 L263.00 468.00" fill="none" stroke="#8a8a8a" stroke-width="1.20" stroke-linecap="butt" stroke-linejoin="miter"/>
<path d="M254.00 470.30 L260.00 470.30" fill="none" stroke="#2e2e2e" stroke-width="1.20" stroke-linecap="butt" stroke-linejoin="miter"/>
<path d="M 294.28 471.22 A 12.60 12.60 0 1 1 318.92 471.22" fill="none" stroke="#2e2e2e" stroke-width="1.10"/>
<path d="M306.60 456.00 L306.60 465.40" fill="none" stroke="#8a8a8a" stroke-width="1.10" stroke-linecap="butt" stroke-linejoin="miter"/>
<path d="M297.80 465.40 L315.40 465.40" fill="none" stroke="#2e2e2e" stroke-width="1.20" stroke-linecap="butt" stroke-linejoin="miter"/>
<path d="M300.60 468.00 L312.60 468.00" fill="none" stroke="#8a8a8a" stroke-width="1.20" stroke-linecap="butt" stroke-linejoin="miter"/>
<path d="M303.60 470.30 L309.60 470.30" fill="none" stroke="#2e2e2e" stroke-width="1.20" stroke-linecap="butt" stroke-linejoin="miter"/>
<g transform="translate(259.33 407.50) scale(0.7470 1)" font-size="19.62" fill="#111"><text>BK</text><text x="0.736">BK</text></g>
<g transform="translate(308.83 439.50) scale(0.7583 1)" font-size="19.33" fill="#111"><text>BK</text><text x="0.725">BK</text></g>
<g transform="translate(356.38 433.80) scale(0.6980 1)" font-size="20.06" fill="#111"><text>LDE1</text><text x="0.788">LDE1</text></g>
<g transform="translate(356.38 466.30) scale(0.6980 1)" font-size="20.06" fill="#111"><text>LDE2</text><text x="0.788">LDE2</text></g>
<path d="M139.40 498.40 L473.40 498.40 L473.40 609.50 L139.40 609.50 L139.40 498.40" fill="none" stroke="#2e2e2e" stroke-width="1.10" stroke-linecap="butt" stroke-linejoin="miter" stroke-dasharray="6 3.2"/>
<path d="M278.40 517.70 L235.60 517.70" fill="none" stroke="#2e2e2e" stroke-width="1.10" stroke-linecap="butt" stroke-linejoin="miter" stroke-dasharray="6 3.2"/>
<path d="M226.60 517.70 L145.60 517.70 L145.60 549.40 L151.90 549.40" fill="none" stroke="#2e2e2e" stroke-width="1.10" stroke-linecap="butt" stroke-linejoin="miter" stroke-dasharray="6 3.2"/>
<path d="M151.90 549.40 L195.60 533.30" fill="none" stroke="#2e2e2e" stroke-width="1.10" stroke-linecap="butt" stroke-linejoin="miter"/>
<path d="M189.70 531.00 L189.70 549.40" fill="none" stroke="#8a8a8a" stroke-width="1.10" stroke-linecap="butt" stroke-linejoin="miter"/>
<path d="M189.70 549.40 L226.60 549.40" fill="none" stroke="#2e2e2e" stroke-width="1.10" stroke-linecap="butt" stroke-linejoin="miter" stroke-dasharray="6 3.2"/>
<path d="M235.60 549.40 L262.30 549.40 L262.30 537.20 L278.40 537.20" fill="none" stroke="#2e2e2e" stroke-width="1.10" stroke-linecap="butt" stroke-linejoin="miter" stroke-dasharray="6 3.2"/>
<circle cx="231.10" cy="517.70" r="4.50" fill="#fff" stroke="#2e2e2e" stroke-width="1.10"/>
<circle cx="231.10" cy="549.40" r="4.50" fill="#fff" stroke="#2e2e2e" stroke-width="1.10"/>
<path d="M164.70 543.40 L164.70 556.30 L179.50 556.30 L179.50 564.20 L164.70 564.20 L164.70 575.50" fill="none" stroke="#8a8a8a" stroke-width="1.10" stroke-linecap="butt" stroke-linejoin="miter"/>
<g transform="translate(147.61 595.00) scale(0.7175 1)" font-size="19.33" fill="#111"><text>26H</text><text x="0.767">26H</text></g>
<g transform="translate(29.23 588.60) scale(0.5328 1)" font-size="21.08" fill="#111"><text>(OPTION</text><text x="1.032">(OPTION</text></g>
<g transform="translate(85.18 588.60) scale(0.5467 1)" font-size="21.08" fill="#111"><text>PARTS</text><text x="1.006">PARTS</text></g>
<g transform="translate(127.73 588.40) scale(0.7323 1)" font-size="18.46" fill="#111"><text>)</text><text x="0.751">)</text></g>
<g transform="translate(204.38 514.50) scale(0.5962 1)" font-size="19.33" fill="#111"><text>BK</text><text x="0.922">BK</text></g>
<g transform="translate(238.47 514.50) scale(0.6045 1)" font-size="19.33" fill="#111"><text>BK</text><text x="0.910">BK</text></g>
<g transform="translate(263.94 514.50) scale(0.7815 1)" font-size="19.33" fill="#111"><text>2</text><text x="0.704">2</text></g>
<g transform="translate(204.38 545.30) scale(0.5962 1)" font-size="19.33" fill="#111"><text>BK</text><text x="0.922">BK</text></g>
<g transform="translate(238.47 545.30) scale(0.6045 1)" font-size="19.33" fill="#111"><text>BK</text><text x="0.910">BK</text></g>
<g transform="translate(263.72 553.10) scale(0.4881 1)" font-size="18.60" fill="#111"><text>1</text><text x="1.127">1</text></g>
<rect x="278.40" y="505.20" width="34.40" height="44.20" rx="6.00" fill="#fff" stroke="#8a8a8a" stroke-width="1.10"/>
<path d="M294.70 505.20 L294.70 549.40" fill="none" stroke="#8a8a8a" stroke-width="1.10" stroke-linecap="butt" stroke-linejoin="miter"/>
<path d="M 290.50 511.40 A 6.3 6.3 0 0 0 290.50 524.00" fill="none" stroke="#2e2e2e" stroke-width="1.10"/>
<path d="M278.40 517.70 L284.20 517.70" fill="none" stroke="#2e2e2e" stroke-width="1.10" stroke-linecap="butt" stroke-linejoin="miter"/>
<rect x="298.50" y="514.80" width="9.80" height="5.80" fill="#1b1b1b"/>
<path d="M 290.50 530.90 A 6.3 6.3 0 0 0 290.50 543.50" fill="none" stroke="#2e2e2e" stroke-width="1.10"/>
<path d="M278.40 537.20 L284.20 537.20" fill="none" stroke="#2e2e2e" stroke-width="1.10" stroke-linecap="butt" stroke-linejoin="miter"/>
<rect x="298.50" y="534.30" width="9.80" height="5.80" fill="#1b1b1b"/>
<rect x="360.60" y="555.20" width="33.90" height="43.70" rx="6.00" fill="#fff" stroke="#8a8a8a" stroke-width="1.10"/>
<path d="M376.60 555.20 L376.60 598.90" fill="none" stroke="#8a8a8a" stroke-width="1.10" stroke-linecap="butt" stroke-linejoin="miter"/>
<path d="M 372.70 561.00 A 6.3 6.3 0 0 0 372.70 573.60" fill="none" stroke="#2e2e2e" stroke-width="1.10"/>
<path d="M360.60 567.30 L366.40 567.30" fill="none" stroke="#2e2e2e" stroke-width="1.10" stroke-linecap="butt" stroke-linejoin="miter"/>
<rect x="380.40" y="564.40" width="9.80" height="5.80" fill="#1b1b1b"/>
<path d="M 372.70 580.10 A 6.3 6.3 0 0 0 372.70 592.70" fill="none" stroke="#2e2e2e" stroke-width="1.10"/>
<path d="M360.60 586.40 L366.40 586.40" fill="none" stroke="#2e2e2e" stroke-width="1.10" stroke-linecap="butt" stroke-linejoin="miter"/>
<rect x="380.40" y="583.50" width="9.80" height="5.80" fill="#1b1b1b"/>
<path d="M312.80 517.70 L441.40 517.70 L441.40 446.30" fill="none" stroke="#2e2e2e" stroke-width="1.10" stroke-linecap="butt" stroke-linejoin="miter" stroke-dasharray="6 3.2"/>
<path d="M312.80 537.20 L441.40 537.20 L441.40 567.30 L394.50 567.30" fill="none" stroke="#2e2e2e" stroke-width="1.10" stroke-linecap="butt" stroke-linejoin="miter" stroke-dasharray="6 3.2"/>
<path d="M394.50 586.40 L461.00 586.40 L461.00 446.30" fill="none" stroke="#2e2e2e" stroke-width="1.10" stroke-linecap="butt" stroke-linejoin="miter" stroke-dasharray="6 3.2"/>
<g transform="translate(313.38 514.50) scale(0.6466 1)" font-size="19.33" fill="#111"><text>2</text><text x="0.851">2</text></g>
<g transform="translate(314.94 553.00) scale(0.5074 1)" font-size="17.44" fill="#111"><text>1</text><text x="1.084">1</text></g>
<g transform="translate(411.71 515.30) scale(0.7513 1)" font-size="18.17" fill="#111"><text>RD</text><text x="0.732">RD</text></g>
<g transform="translate(414.54 533.30) scale(0.6619 1)" font-size="19.33" fill="#111"><text>YE</text><text x="0.831">YE</text></g>
<path d="M360.60 567.30 L215.50 567.30 L215.50 586.00 L260.00 586.00" fill="none" stroke="#2e2e2e" stroke-width="1.10" stroke-linecap="butt" stroke-linejoin="miter" stroke-dasharray="6 3.2"/>
<path d="M315.60 586.40 L360.60 586.40" fill="none" stroke="#2e2e2e" stroke-width="1.10" stroke-linecap="butt" stroke-linejoin="miter" stroke-dasharray="6 3.2"/>
<rect x="260.00" y="576.30" width="55.60" height="21.00" rx="0.00" fill="#fff" stroke="#2e2e2e" stroke-width="1.10"/>
<path d="M274.50 576.30 L274.50 597.30" fill="none" stroke="#2e2e2e" stroke-width="1.10" stroke-linecap="butt" stroke-linejoin="miter"/>
<path d="M287.30 576.30 L287.30 597.30" fill="none" stroke="#2e2e2e" stroke-width="1.10" stroke-linecap="butt" stroke-linejoin="miter"/>
<path d="M301.40 576.30 L301.40 597.30" fill="none" stroke="#2e2e2e" stroke-width="1.10" stroke-linecap="butt" stroke-linejoin="miter"/>
<g transform="translate(230.43 583.30) scale(0.7541 1)" font-size="19.33" fill="#111"><text>BK</text><text x="0.729">BK</text></g>
<g transform="translate(241.66 605.20) scale(0.7370 1)" font-size="19.33" fill="#111"><text>H</text><text x="0.746">H</text></g>
<g transform="translate(321.60 583.30) scale(0.6928 1)" font-size="19.77" fill="#111"><text>BK</text><text x="0.794">BK</text></g>
<g transform="translate(431.41 583.30) scale(0.6887 1)" font-size="19.77" fill="#111"><text>BK</text><text x="0.799">BK</text></g>
<g transform="translate(346.30 563.80) scale(0.6641 1)" font-size="18.17" fill="#111"><text>2</text><text x="0.828">2</text></g>
<g transform="translate(345.27 602.80) scale(0.5054 1)" font-size="19.33" fill="#111"><text>1</text><text x="1.088">1</text></g>
<g transform="translate(394.64 563.80) scale(0.7239 1)" font-size="18.17" fill="#111"><text>2</text><text x="0.760">2</text></g>
<g transform="translate(395.07 602.80) scale(0.3627 1)" font-size="19.33" fill="#111"><text>1</text><text x="1.516">1</text></g>
</svg>
</body></html>
